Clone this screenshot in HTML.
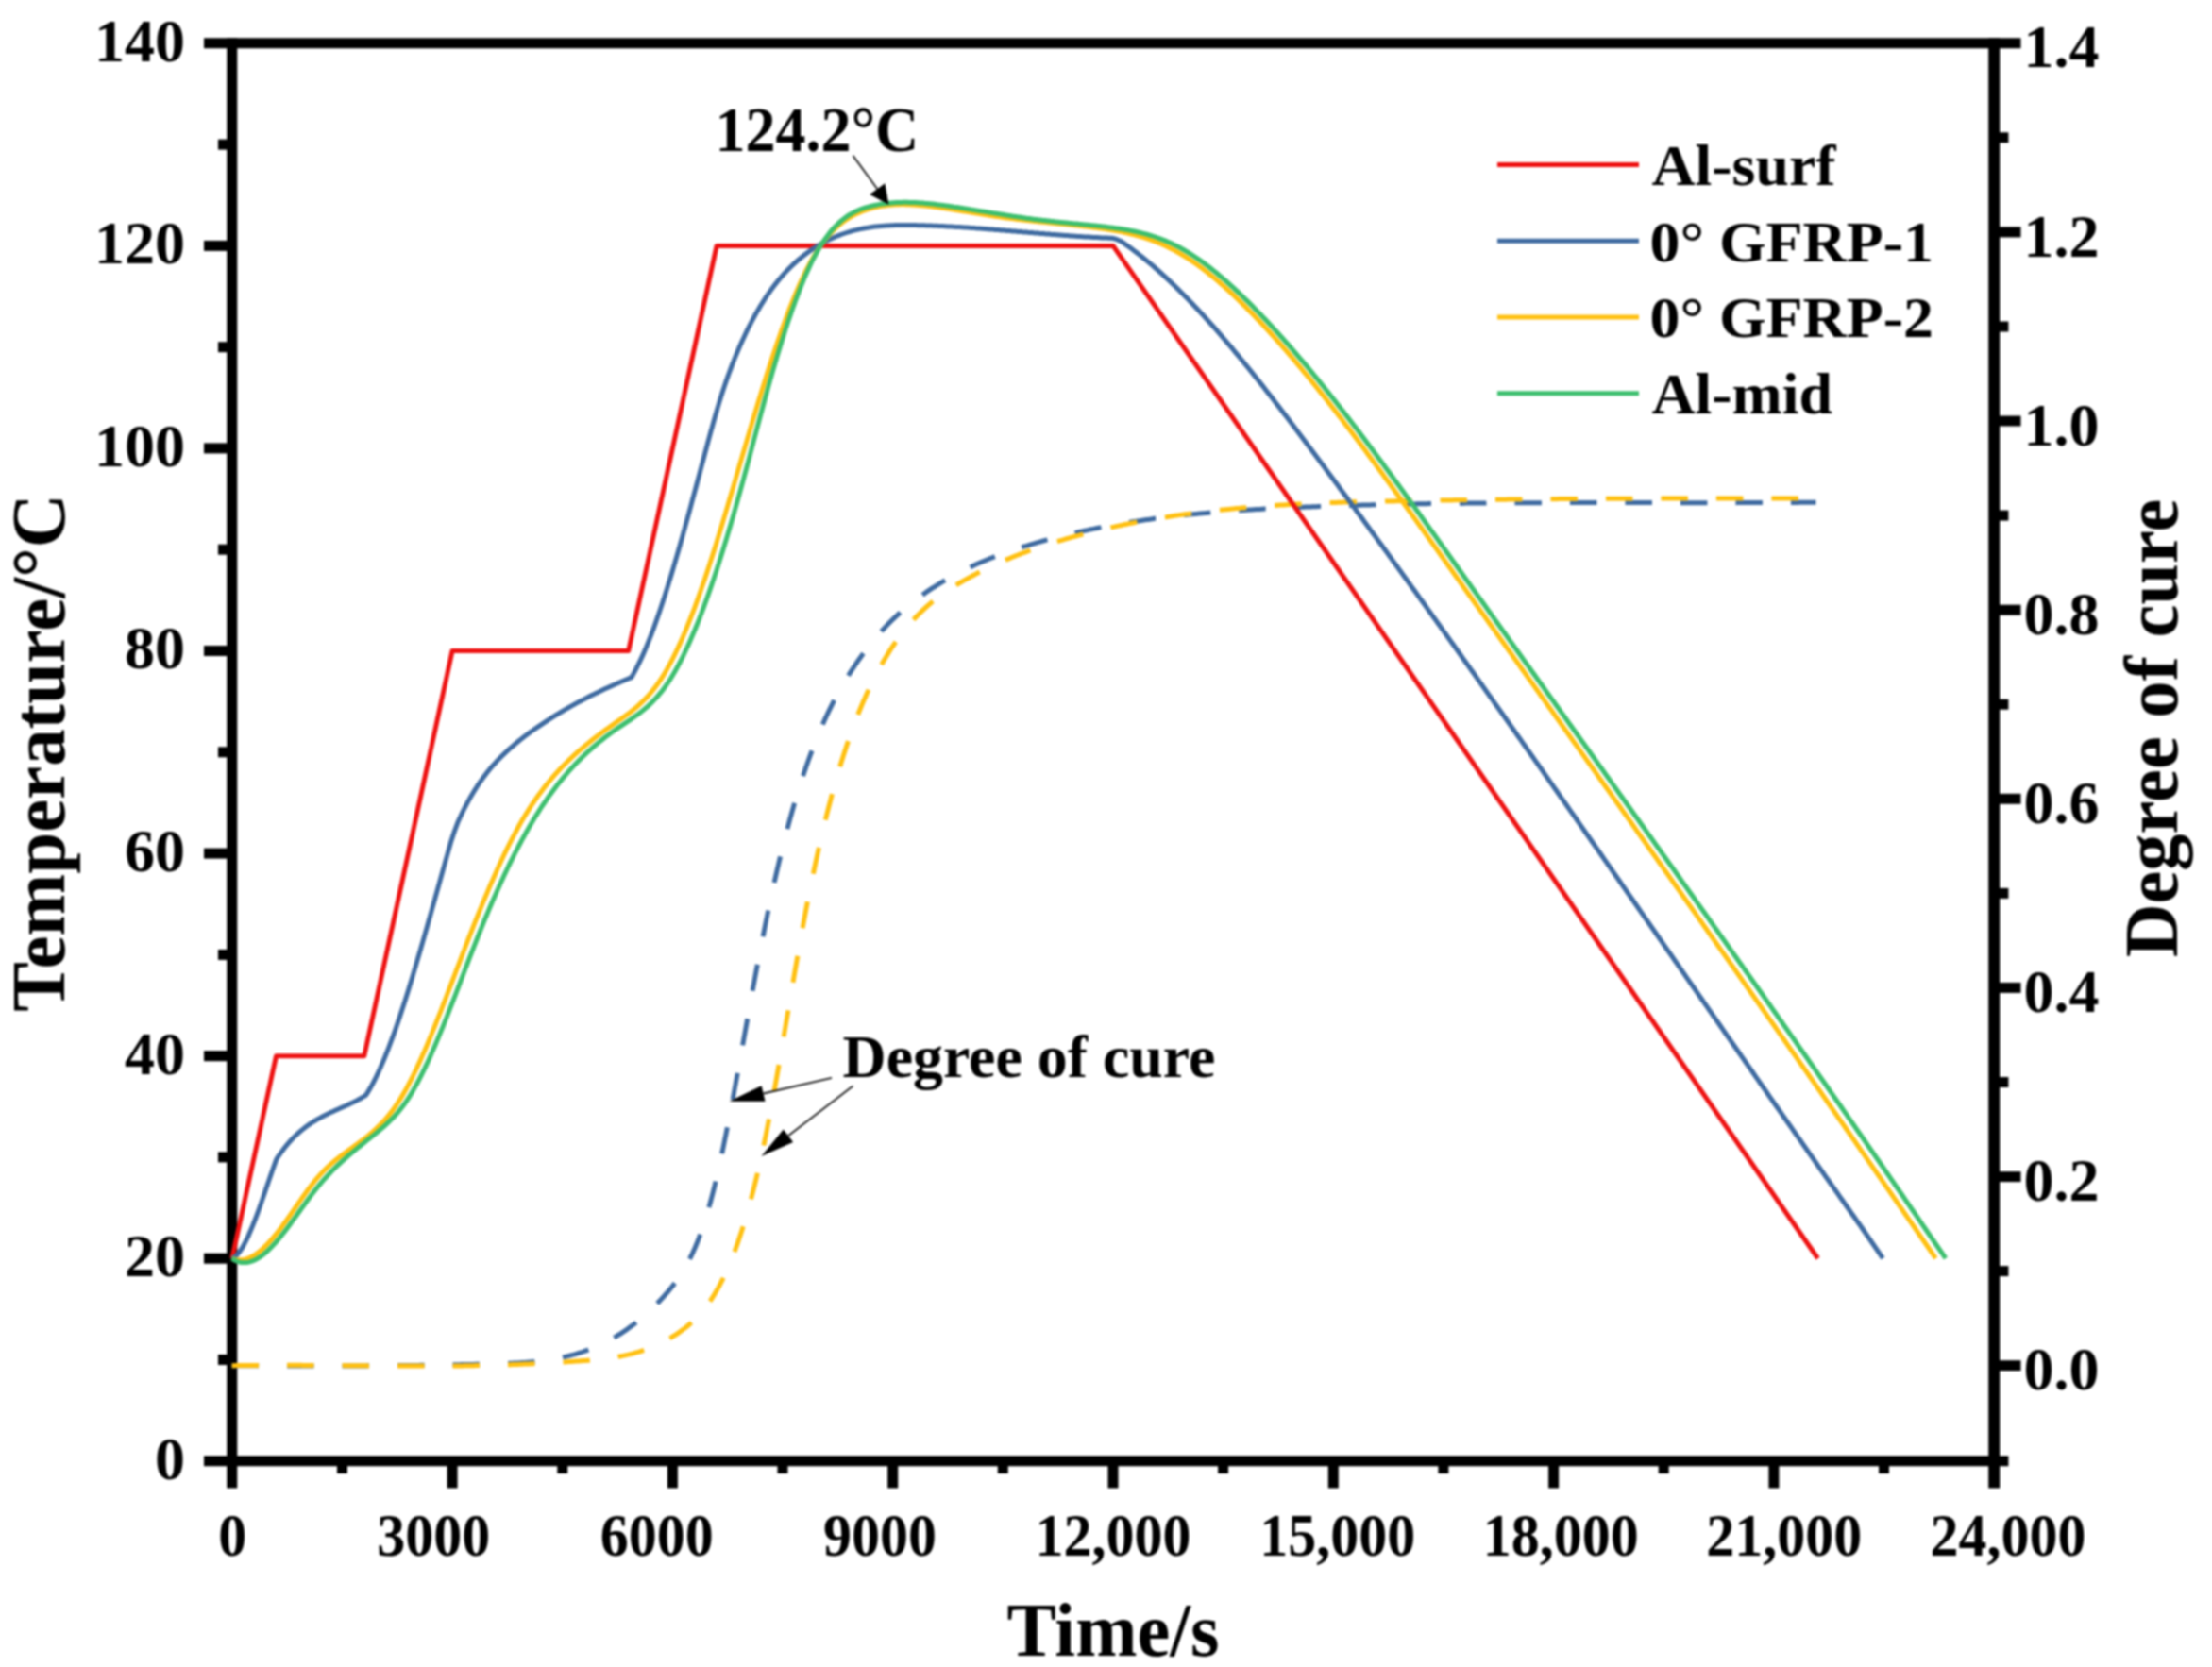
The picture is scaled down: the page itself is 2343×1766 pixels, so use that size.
<!DOCTYPE html>
<html lang="en"><head><meta charset="utf-8"><title>Cure cycle temperature and degree of cure</title>
<style>html,body{margin:0;padding:0;background:#fff}body{width:2343px;height:1766px;overflow:hidden}svg{display:block;filter:blur(0.9px)}</style>
</head><body>
<svg width="2343" height="1766" viewBox="0 0 2343 1766">
<rect width="2343" height="1766" fill="#fff"/>
<g stroke="#000" stroke-width="11" fill="none" stroke-linecap="butt">
<path d="M216,45.8 H2140.5"/>
<path d="M216,1547.8 H2127.4"/>
<path d="M245.8,40.3 V1576.5"/>
<path d="M2112.2,40.3 V1576.5" stroke-width="12"/>
<path d="M231,1440.5 H245.8"/>
<path d="M216,1333.2 H245.8"/>
<path d="M231,1225.9 H245.8"/>
<path d="M216,1118.7 H245.8"/>
<path d="M231,1011.4 H245.8"/>
<path d="M216,904.1 H245.8"/>
<path d="M231,796.8 H245.8"/>
<path d="M216,689.5 H245.8"/>
<path d="M231,582.2 H245.8"/>
<path d="M216,474.9 H245.8"/>
<path d="M231,367.7 H245.8"/>
<path d="M216,260.4 H245.8"/>
<path d="M231,153.1 H245.8"/>
<path d="M2112.2,1446.7 H2140.5"/>
<path d="M2112.2,1346.6 H2127.4"/>
<path d="M2112.2,1246.6 H2140.5"/>
<path d="M2112.2,1146.5 H2127.4"/>
<path d="M2112.2,1046.4 H2140.5"/>
<path d="M2112.2,946.4 H2127.4"/>
<path d="M2112.2,846.3 H2140.5"/>
<path d="M2112.2,746.2 H2127.4"/>
<path d="M2112.2,646.2 H2140.5"/>
<path d="M2112.2,546.1 H2127.4"/>
<path d="M2112.2,446.0 H2140.5"/>
<path d="M2112.2,346.0 H2127.4"/>
<path d="M2112.2,245.9 H2140.5"/>
<path d="M2112.2,145.8 H2127.4"/>
<path d="M362.5,1547.8 V1561"/>
<path d="M479.1,1547.8 V1576.5"/>
<path d="M595.8,1547.8 V1561"/>
<path d="M712.4,1547.8 V1576.5"/>
<path d="M829.0,1547.8 V1561"/>
<path d="M945.7,1547.8 V1576.5"/>
<path d="M1062.3,1547.8 V1561"/>
<path d="M1179.0,1547.8 V1576.5"/>
<path d="M1295.6,1547.8 V1561"/>
<path d="M1412.3,1547.8 V1576.5"/>
<path d="M1528.9,1547.8 V1561"/>
<path d="M1645.6,1547.8 V1576.5"/>
<path d="M1762.2,1547.8 V1561"/>
<path d="M1878.9,1547.8 V1576.5"/>
<path d="M1995.5,1547.8 V1561"/>
</g>
<g fill="none" stroke-width="5.0" stroke-linejoin="round" stroke-linecap="butt">
<path d="M245.6,1446.7 L247.1,1446.7 L248.6,1446.7 L250.1,1446.7 L251.6,1446.7 L253.1,1446.7 L254.6,1446.8 L256.1,1446.8 L257.6,1446.8 L259.1,1446.8 L260.6,1446.8 L262.1,1446.8 L263.6,1446.8 L265.1,1446.8 L266.6,1446.8 L268.1,1446.8 L269.6,1446.8 L271.1,1446.8 L272.6,1446.8 L274.1,1446.9 L275.6,1446.9 L277.1,1446.9 L278.6,1446.9 L280.1,1446.9 L281.6,1446.9 L283.1,1446.9 L284.6,1446.9 L286.1,1446.9 L287.6,1446.9 L289.1,1446.9 L290.6,1446.9 L292.1,1446.9 L293.6,1446.9 L295.1,1446.9 L296.6,1446.9 L298.1,1446.9 L299.6,1447.0 L301.1,1447.0 L302.6,1447.0 L304.1,1447.0 L305.6,1447.0 L307.1,1447.0 L308.6,1447.0 L310.1,1447.0 L311.6,1447.0 L313.1,1447.0 L314.6,1447.0 L316.1,1447.0 L317.6,1447.0 L319.1,1447.0 L320.6,1447.0 L322.1,1447.0 L323.6,1447.0 L325.1,1447.0 L326.6,1447.0 L328.1,1447.0 L329.6,1447.0 L331.1,1447.0 L332.6,1447.0 L334.1,1447.0 L335.6,1447.0 L337.1,1447.0 L338.6,1447.0 L340.1,1447.0 L341.6,1447.0 L343.1,1447.0 L344.6,1447.0 L346.1,1447.0 L347.6,1447.0 L349.1,1447.0 L350.6,1447.0 L352.1,1447.0 L353.6,1447.0 L355.1,1447.0 L356.6,1447.0 L358.1,1447.0 L359.6,1447.0 L361.1,1447.0 L362.6,1447.0 L364.1,1447.0 L365.6,1447.0 L367.1,1446.9 L368.6,1446.9 L370.1,1446.9 L371.6,1446.9 L373.1,1446.9 L374.6,1446.9 L376.1,1446.9 L377.6,1446.9 L379.1,1446.9 L380.6,1446.9 L382.1,1446.9 L383.6,1446.9 L385.1,1446.9 L386.6,1446.9 L388.1,1446.9 L389.6,1446.8 L391.1,1446.8 L392.6,1446.8 L394.1,1446.8 L395.6,1446.8 L397.1,1446.8 L398.6,1446.8 L400.1,1446.8 L401.6,1446.8 L403.1,1446.8 L404.6,1446.7 L406.1,1446.7 L407.6,1446.7 L409.1,1446.7 L410.6,1446.7 L412.1,1446.7 L413.6,1446.7 L415.1,1446.7 L416.6,1446.6 L418.1,1446.6 L419.6,1446.6 L421.1,1446.6 L422.6,1446.6 L424.1,1446.6 L425.6,1446.6 L427.1,1446.5 L428.6,1446.5 L430.1,1446.5 L431.6,1446.5 L433.1,1446.5 L434.6,1446.5 L436.1,1446.4 L437.6,1446.4 L439.1,1446.4 L440.6,1446.4 L442.1,1446.4 L443.6,1446.4 L445.1,1446.3 L446.6,1446.3 L448.1,1446.3 L449.6,1446.3 L451.1,1446.3 L452.6,1446.2 L454.1,1446.2 L455.6,1446.2 L457.1,1446.2 L458.6,1446.1 L460.1,1446.1 L461.6,1446.1 L463.1,1446.1 L464.6,1446.1 L466.1,1446.0 L467.6,1446.0 L469.1,1446.0 L470.6,1446.0 L472.1,1445.9 L473.6,1445.9 L475.1,1445.9 L476.6,1445.9 L478.1,1445.8 L479.6,1445.8 L481.1,1445.8 L482.6,1445.7 L484.1,1445.7 L485.6,1445.7 L487.1,1445.7 L488.6,1445.6 L490.1,1445.6 L491.6,1445.6 L493.1,1445.5 L494.6,1445.5 L496.1,1445.5 L497.6,1445.4 L499.1,1445.4 L500.6,1445.4 L502.1,1445.4 L503.6,1445.3 L505.1,1445.3 L506.6,1445.3 L508.1,1445.2 L509.6,1445.2 L511.1,1445.1 L512.6,1445.1 L514.1,1445.1 L515.6,1445.0 L517.1,1445.0 L518.6,1445.0 L520.1,1444.9 L521.6,1444.9 L523.1,1444.9 L524.6,1444.8 L526.1,1444.8 L527.6,1444.7 L529.1,1444.7 L530.6,1444.6 L532.1,1444.6 L533.6,1444.6 L535.1,1444.5 L536.6,1444.4 L538.1,1444.4 L539.6,1444.3 L541.1,1444.3 L542.6,1444.2 L544.1,1444.1 L545.6,1444.1 L547.1,1444.0 L548.6,1443.9 L550.1,1443.8 L551.6,1443.7 L553.1,1443.6 L554.6,1443.5 L556.1,1443.4 L557.6,1443.3 L559.1,1443.2 L560.6,1443.1 L562.1,1443.0 L563.6,1442.8 L565.1,1442.7 L566.6,1442.5 L568.1,1442.4 L569.6,1442.2 L571.1,1442.0 L572.6,1441.9 L574.1,1441.7 L575.6,1441.5 L577.1,1441.3 L578.6,1441.1 L580.1,1440.9 L581.6,1440.6 L583.1,1440.4 L584.6,1440.1 L586.1,1439.9 L587.6,1439.6 L589.1,1439.4 L590.6,1439.1 L592.1,1438.8 L593.6,1438.5 L595.1,1438.1 L596.6,1437.8 L598.1,1437.5 L599.6,1437.1 L601.1,1436.8 L602.6,1436.4 L604.1,1436.0 L605.6,1435.6 L607.1,1435.2 L608.6,1434.8 L610.1,1434.3 L611.6,1433.9 L613.1,1433.4 L614.6,1433.0 L616.1,1432.5 L617.6,1432.0 L619.1,1431.4 L620.6,1430.9 L622.1,1430.4 L623.6,1429.8 L625.1,1429.2 L626.6,1428.6 L628.1,1428.0 L629.6,1427.4 L631.1,1426.8 L632.6,1426.1 L634.1,1425.4 L635.6,1424.8 L637.1,1424.1 L638.6,1423.3 L640.1,1422.6 L641.6,1421.8 L643.1,1421.1 L644.6,1420.3 L646.1,1419.5 L647.6,1418.6 L649.1,1417.8 L650.6,1416.9 L652.1,1416.1 L653.6,1415.1 L655.1,1414.2 L656.6,1413.3 L658.1,1412.3 L659.6,1411.3 L661.1,1410.4 L662.6,1409.3 L664.1,1408.3 L665.6,1407.2 L667.1,1406.1 L668.6,1405.0 L670.1,1403.9 L671.6,1402.8 L673.1,1401.6 L674.6,1400.4 L676.1,1399.2 L677.6,1398.0 L679.1,1396.7 L680.6,1395.4 L682.1,1394.1 L683.6,1392.8 L685.1,1391.5 L686.6,1390.1 L688.1,1388.7 L689.6,1387.3 L691.1,1385.8 L692.6,1384.3 L694.1,1382.9 L695.6,1381.3 L697.1,1379.8 L698.6,1378.2 L700.1,1376.6 L701.6,1375.0 L703.1,1373.4 L704.6,1371.7 L706.1,1370.0 L707.6,1368.3 L709.1,1366.5 L710.6,1364.7 L712.1,1362.8 L713.6,1360.9 L715.1,1359.0 L716.6,1356.9 L718.1,1354.8 L719.6,1352.6 L721.1,1350.4 L722.6,1348.0 L724.1,1345.6 L725.6,1343.0 L727.1,1340.4 L728.6,1337.6 L730.1,1334.7 L731.6,1331.7 L733.1,1328.6 L734.6,1325.3 L736.1,1321.9 L737.6,1318.3 L739.1,1314.6 L740.6,1310.7 L742.1,1306.6 L743.6,1302.4 L745.1,1298.0 L746.6,1293.4 L748.1,1288.6 L749.6,1283.6 L751.1,1278.4 L752.6,1273.0 L754.1,1267.4 L755.6,1261.6 L757.1,1255.6 L758.6,1249.3 L760.1,1242.9 L761.6,1236.3 L763.1,1229.5 L764.6,1222.5 L766.1,1215.4 L767.6,1208.1 L769.1,1200.7 L770.6,1193.2 L772.1,1185.5 L773.6,1177.8 L775.1,1169.9 L776.6,1162.0 L778.1,1153.9 L779.6,1145.8 L781.1,1137.7 L782.6,1129.5 L784.1,1121.2 L785.6,1113.0 L787.1,1104.7 L788.6,1096.4 L790.1,1088.1 L791.6,1079.8 L793.1,1071.5 L794.6,1063.3 L796.1,1055.1 L797.6,1047.0 L799.1,1038.9 L800.6,1030.9 L802.1,1023.0 L803.6,1015.2 L805.1,1007.4 L806.6,999.7 L808.1,992.2 L809.6,984.7 L811.1,977.3 L812.6,970.0 L814.1,962.8 L815.6,955.7 L817.1,948.7 L818.6,941.8 L820.1,935.0 L821.6,928.4 L823.1,921.9 L824.6,915.5 L826.1,909.2 L827.6,903.0 L829.1,896.9 L830.6,891.0 L832.1,885.2 L833.6,879.5 L835.1,873.8 L836.6,868.4 L838.1,863.0 L839.6,857.7 L841.1,852.5 L842.6,847.4 L844.1,842.4 L845.6,837.6 L847.1,832.8 L848.6,828.1 L850.1,823.5 L851.6,819.0 L853.1,814.6 L854.6,810.2 L856.1,806.0 L857.6,801.9 L859.1,797.8 L860.6,793.8 L862.1,789.9 L863.6,786.1 L865.1,782.3 L866.6,778.7 L868.1,775.1 L869.6,771.6 L871.1,768.1 L872.6,764.7 L874.1,761.4 L875.6,758.2 L877.1,755.0 L878.6,751.9 L880.1,748.8 L881.6,745.8 L883.1,742.9 L884.6,740.0 L886.1,737.2 L887.6,734.4 L889.1,731.7 L890.6,729.1 L892.1,726.4 L893.6,723.9 L895.1,721.3 L896.6,718.9 L898.1,716.4 L899.6,714.0 L901.1,711.7 L902.6,709.4 L904.1,707.1 L905.6,704.8 L907.1,702.6 L908.6,700.4 L910.1,698.3 L911.6,696.2 L913.1,694.1 L914.6,692.1 L916.1,690.0 L917.6,688.1 L919.1,686.1 L920.6,684.2 L922.1,682.3 L923.6,680.4 L925.1,678.6 L926.6,676.8 L928.1,675.0 L929.6,673.3 L931.1,671.6 L932.6,669.9 L934.1,668.2 L935.6,666.6 L937.1,665.0 L938.6,663.4 L940.1,661.8 L941.6,660.3 L943.1,658.8 L944.6,657.3 L946.1,655.8 L947.6,654.4 L949.1,653.0 L950.6,651.6 L952.1,650.2 L953.6,648.9 L955.1,647.5 L956.6,646.2 L958.1,644.9 L959.6,643.7 L961.1,642.4 L962.6,641.2 L964.1,640.0 L965.6,638.8 L967.1,637.6 L968.6,636.4 L970.1,635.3 L971.6,634.2 L973.1,633.1 L974.6,632.0 L976.1,630.9 L977.6,629.8 L979.1,628.8 L980.6,627.7 L982.1,626.7 L983.6,625.7 L985.1,624.7 L986.6,623.7 L988.1,622.7 L989.6,621.8 L991.1,620.8 L992.6,619.9 L994.1,619.0 L995.6,618.0 L997.1,617.1 L998.6,616.2 L1000.1,615.3 L1001.6,614.5 L1003.1,613.6 L1004.6,612.7 L1006.1,611.9 L1007.6,611.1 L1009.1,610.2 L1010.6,609.4 L1012.1,608.6 L1013.6,607.8 L1015.1,607.0 L1016.6,606.3 L1018.1,605.5 L1019.6,604.7 L1021.1,604.0 L1022.6,603.2 L1024.1,602.5 L1025.6,601.8 L1027.1,601.1 L1028.6,600.4 L1030.1,599.7 L1031.6,599.0 L1033.1,598.3 L1034.6,597.6 L1036.1,596.9 L1037.6,596.3 L1039.1,595.6 L1040.6,595.0 L1042.1,594.4 L1043.6,593.7 L1045.1,593.1 L1046.6,592.5 L1048.1,591.9 L1049.6,591.3 L1051.1,590.7 L1052.6,590.1 L1054.1,589.5 L1055.6,589.0 L1057.1,588.4 L1058.6,587.8 L1060.1,587.3 L1061.6,586.7 L1063.1,586.2 L1064.6,585.7 L1066.1,585.1 L1067.6,584.6 L1069.1,584.1 L1070.6,583.6 L1072.1,583.1 L1073.6,582.6 L1075.1,582.1 L1076.6,581.6 L1078.1,581.1 L1079.6,580.6 L1081.1,580.1 L1082.6,579.7 L1084.1,579.2 L1085.6,578.7 L1087.1,578.3 L1088.6,577.8 L1090.1,577.3 L1091.6,576.9 L1093.1,576.5 L1094.6,576.0 L1096.1,575.6 L1097.6,575.1 L1099.1,574.7 L1100.6,574.3 L1102.1,573.9 L1103.6,573.4 L1105.1,573.0 L1106.6,572.6 L1108.1,572.2 L1109.6,571.8 L1111.1,571.4 L1112.6,571.0 L1114.1,570.6 L1115.6,570.2 L1117.1,569.8 L1118.6,569.4 L1120.1,569.0 L1121.6,568.7 L1123.1,568.3 L1124.6,567.9 L1126.1,567.5 L1127.6,567.2 L1129.1,566.8 L1130.6,566.4 L1132.1,566.1 L1133.6,565.7 L1135.1,565.4 L1136.6,565.0 L1138.1,564.7 L1139.6,564.3 L1141.1,564.0 L1142.6,563.6 L1144.1,563.3 L1145.6,563.0 L1147.1,562.6 L1148.6,562.3 L1150.1,562.0 L1151.6,561.7 L1153.1,561.3 L1154.6,561.0 L1156.1,560.7 L1157.6,560.4 L1159.1,560.1 L1160.6,559.8 L1162.1,559.5 L1163.6,559.2 L1165.1,558.9 L1166.6,558.6 L1168.1,558.3 L1169.6,558.0 L1171.1,557.8 L1172.6,557.5 L1174.1,557.2 L1175.6,556.9 L1177.1,556.6 L1178.6,556.4 L1180.1,556.1 L1181.6,555.8 L1183.1,555.6 L1184.6,555.3 L1186.1,555.0 L1187.6,554.8 L1189.1,554.5 L1190.6,554.3 L1192.1,554.0 L1193.6,553.8 L1195.1,553.5 L1196.6,553.3 L1198.1,553.1 L1199.6,552.8 L1201.1,552.6 L1202.6,552.4 L1204.1,552.1 L1205.6,551.9 L1207.1,551.7 L1208.6,551.5 L1210.1,551.2 L1211.6,551.0 L1213.1,550.8 L1214.6,550.6 L1216.1,550.4 L1217.6,550.2 L1219.1,550.0 L1220.6,549.8 L1222.1,549.5 L1223.6,549.3 L1225.1,549.2 L1226.6,549.0 L1228.1,548.8 L1229.6,548.6 L1231.1,548.4 L1232.6,548.2 L1234.1,548.0 L1235.6,547.8 L1237.1,547.6 L1238.6,547.5 L1240.1,547.3 L1241.6,547.1 L1243.1,546.9 L1244.6,546.8 L1246.1,546.6 L1247.6,546.4 L1249.1,546.2 L1250.6,546.1 L1252.1,545.9 L1253.6,545.8 L1255.1,545.6 L1256.6,545.4 L1258.1,545.3 L1259.6,545.1 L1261.1,545.0 L1262.6,544.8 L1264.1,544.7 L1265.6,544.5 L1267.1,544.4 L1268.6,544.2 L1270.1,544.1 L1271.6,544.0 L1273.1,543.8 L1274.6,543.7 L1276.1,543.6 L1277.6,543.4 L1279.1,543.3 L1280.6,543.2 L1282.1,543.0 L1283.6,542.9 L1285.1,542.8 L1286.6,542.7 L1288.1,542.5 L1289.6,542.4 L1291.1,542.3 L1292.6,542.2 L1294.1,542.1 L1295.6,541.9 L1297.1,541.8 L1298.6,541.7 L1300.1,541.6 L1301.6,541.5 L1303.1,541.4 L1304.6,541.3 L1306.1,541.2 L1307.6,541.1 L1309.1,541.0 L1310.6,540.9 L1312.1,540.8 L1313.6,540.7 L1315.1,540.6 L1316.6,540.5 L1318.1,540.4 L1319.6,540.3 L1321.1,540.2 L1322.6,540.1 L1324.1,540.0 L1325.6,539.9 L1327.1,539.8 L1328.6,539.7 L1330.1,539.6 L1331.6,539.5 L1333.1,539.5 L1334.6,539.4 L1336.1,539.3 L1337.6,539.2 L1339.1,539.1 L1340.6,539.0 L1342.1,539.0 L1343.6,538.9 L1345.1,538.8 L1346.6,538.7 L1348.1,538.7 L1349.6,538.6 L1351.1,538.5 L1352.6,538.4 L1354.1,538.4 L1355.6,538.3 L1357.1,538.2 L1358.6,538.2 L1360.1,538.1 L1361.6,538.0 L1363.1,537.9 L1364.6,537.9 L1366.1,537.8 L1367.6,537.7 L1369.1,537.7 L1370.6,537.6 L1372.1,537.6 L1373.6,537.5 L1375.1,537.4 L1376.6,537.4 L1378.1,537.3 L1379.6,537.2 L1381.1,537.2 L1382.6,537.1 L1384.1,537.1 L1385.6,537.0 L1387.1,536.9 L1388.6,536.9 L1390.1,536.8 L1391.6,536.8 L1393.1,536.7 L1394.6,536.7 L1396.1,536.6 L1397.6,536.5 L1399.1,536.5 L1400.6,536.4 L1402.1,536.4 L1403.6,536.3 L1405.1,536.3 L1406.6,536.2 L1408.1,536.2 L1409.6,536.1 L1411.1,536.1 L1412.6,536.0 L1414.1,536.0 L1415.6,535.9 L1417.1,535.9 L1418.6,535.8 L1420.1,535.8 L1421.6,535.7 L1423.1,535.7 L1424.6,535.6 L1426.1,535.6 L1427.6,535.6 L1429.1,535.5 L1430.6,535.5 L1432.1,535.4 L1433.6,535.4 L1435.1,535.3 L1436.6,535.3 L1438.1,535.2 L1439.6,535.2 L1441.1,535.2 L1442.6,535.1 L1444.1,535.1 L1445.6,535.0 L1447.1,535.0 L1448.6,535.0 L1450.1,534.9 L1451.6,534.9 L1453.1,534.8 L1454.6,534.8 L1456.1,534.8 L1457.6,534.7 L1459.1,534.7 L1460.6,534.7 L1462.1,534.6 L1463.6,534.6 L1465.1,534.6 L1466.6,534.5 L1468.1,534.5 L1469.6,534.5 L1471.1,534.4 L1472.6,534.4 L1474.1,534.4 L1475.6,534.3 L1477.1,534.3 L1478.6,534.3 L1480.1,534.2 L1481.6,534.2 L1483.1,534.2 L1484.6,534.1 L1486.1,534.1 L1487.6,534.1 L1489.1,534.1 L1490.6,534.0 L1492.1,534.0 L1493.6,534.0 L1495.1,533.9 L1496.6,533.9 L1498.1,533.9 L1499.6,533.9 L1501.1,533.8 L1502.6,533.8 L1504.1,533.8 L1505.6,533.8 L1507.1,533.7 L1508.6,533.7 L1510.1,533.7 L1511.6,533.7 L1513.1,533.6 L1514.6,533.6 L1516.1,533.6 L1517.6,533.6 L1519.1,533.5 L1520.6,533.5 L1522.1,533.5 L1523.6,533.5 L1525.1,533.5 L1526.6,533.4 L1528.1,533.4 L1529.6,533.4 L1531.1,533.4 L1532.6,533.4 L1534.1,533.3 L1535.6,533.3 L1537.1,533.3 L1538.6,533.3 L1540.1,533.3 L1541.6,533.3 L1543.1,533.2 L1544.6,533.2 L1546.1,533.2 L1547.6,533.2 L1549.1,533.2 L1550.6,533.2 L1552.1,533.1 L1553.6,533.1 L1555.1,533.1 L1556.6,533.1 L1558.1,533.1 L1559.6,533.1 L1561.1,533.1 L1562.6,533.0 L1564.1,533.0 L1565.6,533.0 L1567.1,533.0 L1568.6,533.0 L1570.1,533.0 L1571.6,533.0 L1573.1,533.0 L1574.6,532.9 L1576.1,532.9 L1577.6,532.9 L1579.1,532.9 L1580.6,532.9 L1582.1,532.9 L1583.6,532.9 L1585.1,532.9 L1586.6,532.9 L1588.1,532.8 L1589.6,532.8 L1591.1,532.8 L1592.6,532.8 L1594.1,532.8 L1595.6,532.8 L1597.1,532.8 L1598.6,532.8 L1600.1,532.8 L1601.6,532.8 L1603.1,532.8 L1604.6,532.8 L1606.1,532.7 L1607.6,532.7 L1609.1,532.7 L1610.6,532.7 L1612.1,532.7 L1613.6,532.7 L1615.1,532.7 L1616.6,532.7 L1618.1,532.7 L1619.6,532.7 L1621.1,532.7 L1622.6,532.7 L1624.1,532.7 L1625.6,532.7 L1627.1,532.7 L1628.6,532.7 L1630.1,532.7 L1631.6,532.7 L1633.1,532.7 L1634.6,532.6 L1636.1,532.6 L1637.6,532.6 L1639.1,532.6 L1640.6,532.6 L1642.1,532.6 L1643.6,532.6 L1645.1,532.6 L1646.6,532.6 L1648.1,532.6 L1649.6,532.6 L1651.1,532.6 L1652.6,532.6 L1654.1,532.6 L1655.6,532.6 L1657.1,532.6 L1658.6,532.6 L1660.1,532.6 L1661.6,532.6 L1663.1,532.6 L1664.6,532.6 L1666.1,532.6 L1667.6,532.6 L1669.1,532.6 L1670.6,532.6 L1672.1,532.6 L1673.6,532.6 L1675.1,532.6 L1676.6,532.6 L1678.1,532.6 L1679.6,532.6 L1681.1,532.6 L1682.6,532.6 L1684.1,532.6 L1685.6,532.6 L1687.1,532.6 L1688.6,532.6 L1690.1,532.6 L1691.6,532.6 L1693.1,532.6 L1694.6,532.6 L1696.1,532.6 L1697.6,532.6 L1699.1,532.6 L1700.6,532.6 L1702.1,532.6 L1703.6,532.6 L1705.1,532.6 L1706.6,532.6 L1708.1,532.6 L1709.6,532.6 L1711.1,532.6 L1712.6,532.6 L1714.1,532.6 L1715.6,532.6 L1717.1,532.6 L1718.6,532.6 L1720.1,532.6 L1721.6,532.6 L1723.1,532.6 L1724.6,532.6 L1726.1,532.6 L1727.6,532.6 L1729.1,532.6 L1730.6,532.6 L1732.1,532.6 L1733.6,532.6 L1735.1,532.6 L1736.6,532.6 L1738.1,532.6 L1739.6,532.6 L1741.1,532.6 L1742.6,532.6 L1744.1,532.6 L1745.6,532.6 L1747.1,532.6 L1748.6,532.6 L1750.1,532.6 L1751.6,532.7 L1753.1,532.7 L1754.6,532.7 L1756.1,532.7 L1757.6,532.7 L1759.1,532.7 L1760.6,532.7 L1762.1,532.7 L1763.6,532.7 L1765.1,532.7 L1766.6,532.7 L1768.1,532.7 L1769.6,532.7 L1771.1,532.7 L1772.6,532.7 L1774.1,532.7 L1775.6,532.7 L1777.1,532.7 L1778.6,532.7 L1780.1,532.7 L1781.6,532.7 L1783.1,532.7 L1784.6,532.7 L1786.1,532.7 L1787.6,532.7 L1789.1,532.7 L1790.6,532.7 L1792.1,532.7 L1793.6,532.7 L1795.1,532.7 L1796.6,532.7 L1798.1,532.7 L1799.6,532.7 L1801.1,532.7 L1802.6,532.7 L1804.1,532.7 L1805.6,532.7 L1807.1,532.7 L1808.6,532.7 L1810.1,532.7 L1811.6,532.7 L1813.1,532.7 L1814.6,532.7 L1816.1,532.7 L1817.6,532.7 L1819.1,532.7 L1820.6,532.7 L1822.1,532.7 L1823.6,532.7 L1825.1,532.7 L1826.6,532.7 L1828.1,532.7 L1829.6,532.7 L1831.1,532.7 L1832.6,532.7 L1834.1,532.7 L1835.6,532.7 L1837.1,532.7 L1838.6,532.7 L1840.1,532.6 L1841.6,532.6 L1843.1,532.6 L1844.6,532.6 L1846.1,532.6 L1847.6,532.6 L1849.1,532.6 L1850.6,532.6 L1852.1,532.6 L1853.6,532.6 L1855.1,532.6 L1856.6,532.6 L1858.1,532.6 L1859.6,532.6 L1861.1,532.6 L1862.6,532.6 L1864.1,532.6 L1865.6,532.6 L1867.1,532.6 L1868.6,532.6 L1870.1,532.6 L1871.6,532.6 L1873.1,532.5 L1874.6,532.5 L1876.1,532.5 L1877.6,532.5 L1879.1,532.5 L1880.6,532.5 L1882.1,532.5 L1883.6,532.5 L1885.1,532.5 L1886.6,532.5 L1888.1,532.5 L1889.6,532.5 L1891.1,532.4 L1892.6,532.4 L1894.1,532.4 L1895.6,532.4 L1897.1,532.4 L1898.6,532.4 L1900.1,532.4 L1901.6,532.4 L1903.1,532.4 L1904.6,532.4 L1906.1,532.3 L1907.6,532.3 L1909.1,532.3 L1910.6,532.3 L1912.1,532.3 L1913.6,532.3 L1915.1,532.3 L1916.6,532.3 L1918.1,532.2 L1919.6,532.2 L1921.1,532.2 L1922.6,532.2 L1923.5,532.2" stroke="#3e6aa0" stroke-dasharray="28.5 30"/>
<path d="M245.6,1446.7 L247.1,1446.7 L248.6,1446.7 L250.1,1446.6 L251.6,1446.6 L253.1,1446.6 L254.6,1446.6 L256.1,1446.6 L257.6,1446.5 L259.1,1446.5 L260.6,1446.5 L262.1,1446.5 L263.6,1446.5 L265.1,1446.5 L266.6,1446.4 L268.1,1446.4 L269.6,1446.4 L271.1,1446.4 L272.6,1446.4 L274.1,1446.4 L275.6,1446.4 L277.1,1446.4 L278.6,1446.4 L280.1,1446.3 L281.6,1446.3 L283.1,1446.3 L284.6,1446.3 L286.1,1446.3 L287.6,1446.3 L289.1,1446.3 L290.6,1446.3 L292.1,1446.3 L293.6,1446.3 L295.1,1446.3 L296.6,1446.3 L298.1,1446.3 L299.6,1446.3 L301.1,1446.3 L302.6,1446.3 L304.1,1446.3 L305.6,1446.3 L307.1,1446.3 L308.6,1446.3 L310.1,1446.3 L311.6,1446.3 L313.1,1446.3 L314.6,1446.3 L316.1,1446.3 L317.6,1446.3 L319.1,1446.3 L320.6,1446.4 L322.1,1446.4 L323.6,1446.4 L325.1,1446.4 L326.6,1446.4 L328.1,1446.4 L329.6,1446.4 L331.1,1446.4 L332.6,1446.4 L334.1,1446.4 L335.6,1446.4 L337.1,1446.4 L338.6,1446.5 L340.1,1446.5 L341.6,1446.5 L343.1,1446.5 L344.6,1446.5 L346.1,1446.5 L347.6,1446.5 L349.1,1446.5 L350.6,1446.5 L352.1,1446.6 L353.6,1446.6 L355.1,1446.6 L356.6,1446.6 L358.1,1446.6 L359.6,1446.6 L361.1,1446.6 L362.6,1446.6 L364.1,1446.6 L365.6,1446.7 L367.1,1446.7 L368.6,1446.7 L370.1,1446.7 L371.6,1446.7 L373.1,1446.7 L374.6,1446.7 L376.1,1446.7 L377.6,1446.8 L379.1,1446.8 L380.6,1446.8 L382.1,1446.8 L383.6,1446.8 L385.1,1446.8 L386.6,1446.8 L388.1,1446.8 L389.6,1446.9 L391.1,1446.9 L392.6,1446.9 L394.1,1446.9 L395.6,1446.9 L397.1,1446.9 L398.6,1446.9 L400.1,1446.9 L401.6,1446.9 L403.1,1447.0 L404.6,1447.0 L406.1,1447.0 L407.6,1447.0 L409.1,1447.0 L410.6,1447.0 L412.1,1447.0 L413.6,1447.0 L415.1,1447.0 L416.6,1447.0 L418.1,1447.0 L419.6,1447.1 L421.1,1447.1 L422.6,1447.1 L424.1,1447.1 L425.6,1447.1 L427.1,1447.1 L428.6,1447.1 L430.1,1447.1 L431.6,1447.1 L433.1,1447.1 L434.6,1447.1 L436.1,1447.1 L437.6,1447.1 L439.1,1447.1 L440.6,1447.1 L442.1,1447.1 L443.6,1447.1 L445.1,1447.1 L446.6,1447.1 L448.1,1447.1 L449.6,1447.1 L451.1,1447.1 L452.6,1447.1 L454.1,1447.1 L455.6,1447.1 L457.1,1447.1 L458.6,1447.1 L460.1,1447.1 L461.6,1447.1 L463.1,1447.1 L464.6,1447.1 L466.1,1447.1 L467.6,1447.1 L469.1,1447.1 L470.6,1447.0 L472.1,1447.0 L473.6,1447.0 L475.1,1447.0 L476.6,1447.0 L478.1,1447.0 L479.6,1447.0 L481.1,1447.0 L482.6,1446.9 L484.1,1446.9 L485.6,1446.9 L487.1,1446.9 L488.6,1446.9 L490.1,1446.9 L491.6,1446.8 L493.1,1446.8 L494.6,1446.8 L496.1,1446.8 L497.6,1446.7 L499.1,1446.7 L500.6,1446.7 L502.1,1446.7 L503.6,1446.6 L505.1,1446.6 L506.6,1446.6 L508.1,1446.6 L509.6,1446.5 L511.1,1446.5 L512.6,1446.5 L514.1,1446.4 L515.6,1446.4 L517.1,1446.4 L518.6,1446.3 L520.1,1446.3 L521.6,1446.2 L523.1,1446.2 L524.6,1446.2 L526.1,1446.1 L527.6,1446.1 L529.1,1446.0 L530.6,1446.0 L532.1,1445.9 L533.6,1445.9 L535.1,1445.9 L536.6,1445.8 L538.1,1445.8 L539.6,1445.7 L541.1,1445.7 L542.6,1445.6 L544.1,1445.5 L545.6,1445.5 L547.1,1445.4 L548.6,1445.4 L550.1,1445.3 L551.6,1445.3 L553.1,1445.2 L554.6,1445.1 L556.1,1445.1 L557.6,1445.0 L559.1,1444.9 L560.6,1444.9 L562.1,1444.8 L563.6,1444.7 L565.1,1444.7 L566.6,1444.6 L568.1,1444.5 L569.6,1444.4 L571.1,1444.4 L572.6,1444.3 L574.1,1444.2 L575.6,1444.1 L577.1,1444.1 L578.6,1444.0 L580.1,1443.9 L581.6,1443.8 L583.1,1443.7 L584.6,1443.7 L586.1,1443.6 L587.6,1443.5 L589.1,1443.4 L590.6,1443.3 L592.1,1443.2 L593.6,1443.1 L595.1,1443.1 L596.6,1443.0 L598.1,1442.9 L599.6,1442.8 L601.1,1442.7 L602.6,1442.6 L604.1,1442.5 L605.6,1442.4 L607.1,1442.3 L608.6,1442.2 L610.1,1442.1 L611.6,1442.0 L613.1,1441.9 L614.6,1441.8 L616.1,1441.7 L617.6,1441.6 L619.1,1441.5 L620.6,1441.4 L622.1,1441.3 L623.6,1441.2 L625.1,1441.0 L626.6,1440.9 L628.1,1440.8 L629.6,1440.6 L631.1,1440.5 L632.6,1440.4 L634.1,1440.2 L635.6,1440.0 L637.1,1439.9 L638.6,1439.7 L640.1,1439.5 L641.6,1439.3 L643.1,1439.2 L644.6,1438.9 L646.1,1438.7 L647.6,1438.5 L649.1,1438.3 L650.6,1438.1 L652.1,1437.8 L653.6,1437.6 L655.1,1437.3 L656.6,1437.0 L658.1,1436.7 L659.6,1436.4 L661.1,1436.1 L662.6,1435.8 L664.1,1435.4 L665.6,1435.1 L667.1,1434.7 L668.6,1434.4 L670.1,1434.0 L671.6,1433.6 L673.1,1433.1 L674.6,1432.7 L676.1,1432.3 L677.6,1431.8 L679.1,1431.3 L680.6,1430.8 L682.1,1430.3 L683.6,1429.8 L685.1,1429.2 L686.6,1428.7 L688.1,1428.1 L689.6,1427.5 L691.1,1426.9 L692.6,1426.2 L694.1,1425.6 L695.6,1424.9 L697.1,1424.2 L698.6,1423.5 L700.1,1422.8 L701.6,1422.0 L703.1,1421.3 L704.6,1420.5 L706.1,1419.6 L707.6,1418.8 L709.1,1417.9 L710.6,1417.1 L712.1,1416.2 L713.6,1415.2 L715.1,1414.3 L716.6,1413.3 L718.1,1412.3 L719.6,1411.3 L721.1,1410.2 L722.6,1409.1 L724.1,1408.0 L725.6,1406.9 L727.1,1405.7 L728.6,1404.5 L730.1,1403.2 L731.6,1401.9 L733.1,1400.6 L734.6,1399.2 L736.1,1397.7 L737.6,1396.2 L739.1,1394.7 L740.6,1393.0 L742.1,1391.4 L743.6,1389.6 L745.1,1387.8 L746.6,1385.9 L748.1,1384.0 L749.6,1381.9 L751.1,1379.8 L752.6,1377.6 L754.1,1375.4 L755.6,1373.0 L757.1,1370.6 L758.6,1368.0 L760.1,1365.4 L761.6,1362.7 L763.1,1359.9 L764.6,1357.0 L766.1,1354.0 L767.6,1350.8 L769.1,1347.6 L770.6,1344.3 L772.1,1340.8 L773.6,1337.2 L775.1,1333.5 L776.6,1329.7 L778.1,1325.8 L779.6,1321.7 L781.1,1317.6 L782.6,1313.2 L784.1,1308.8 L785.6,1304.2 L787.1,1299.5 L788.6,1294.6 L790.1,1289.6 L791.6,1284.4 L793.1,1279.1 L794.6,1273.7 L796.1,1268.1 L797.6,1262.3 L799.1,1256.4 L800.6,1250.3 L802.1,1244.0 L803.6,1237.6 L805.1,1231.0 L806.6,1224.3 L808.1,1217.3 L809.6,1210.2 L811.1,1202.9 L812.6,1195.5 L814.1,1187.8 L815.6,1180.0 L817.1,1172.1 L818.6,1164.0 L820.1,1155.8 L821.6,1147.4 L823.1,1139.0 L824.6,1130.5 L826.1,1121.9 L827.6,1113.2 L829.1,1104.5 L830.6,1095.7 L832.1,1086.9 L833.6,1078.1 L835.1,1069.3 L836.6,1060.5 L838.1,1051.7 L839.6,1042.9 L841.1,1034.2 L842.6,1025.5 L844.1,1016.9 L845.6,1008.4 L847.1,1000.0 L848.6,991.6 L850.1,983.4 L851.6,975.3 L853.1,967.3 L854.6,959.4 L856.1,951.7 L857.6,944.2 L859.1,936.7 L860.6,929.5 L862.1,922.3 L863.6,915.3 L865.1,908.4 L866.6,901.6 L868.1,894.9 L869.6,888.4 L871.1,882.0 L872.6,875.7 L874.1,869.6 L875.6,863.5 L877.1,857.6 L878.6,851.8 L880.1,846.1 L881.6,840.5 L883.1,835.1 L884.6,829.7 L886.1,824.4 L887.6,819.3 L889.1,814.2 L890.6,809.3 L892.1,804.5 L893.6,799.7 L895.1,795.1 L896.6,790.5 L898.1,786.1 L899.6,781.7 L901.1,777.4 L902.6,773.2 L904.1,769.2 L905.6,765.1 L907.1,761.2 L908.6,757.4 L910.1,753.6 L911.6,750.0 L913.1,746.4 L914.6,742.8 L916.1,739.4 L917.6,736.0 L919.1,732.7 L920.6,729.5 L922.1,726.3 L923.6,723.3 L925.1,720.2 L926.6,717.3 L928.1,714.4 L929.6,711.5 L931.1,708.8 L932.6,706.1 L934.1,703.4 L935.6,700.8 L937.1,698.2 L938.6,695.7 L940.1,693.3 L941.6,690.9 L943.1,688.5 L944.6,686.2 L946.1,684.0 L947.6,681.8 L949.1,679.6 L950.6,677.5 L952.1,675.4 L953.6,673.4 L955.1,671.4 L956.6,669.5 L958.1,667.6 L959.6,665.7 L961.1,663.9 L962.6,662.1 L964.1,660.4 L965.6,658.7 L967.1,657.0 L968.6,655.4 L970.1,653.8 L971.6,652.2 L973.1,650.7 L974.6,649.2 L976.1,647.7 L977.6,646.3 L979.1,644.9 L980.6,643.5 L982.1,642.2 L983.6,640.9 L985.1,639.6 L986.6,638.3 L988.1,637.1 L989.6,635.9 L991.1,634.7 L992.6,633.5 L994.1,632.4 L995.6,631.3 L997.1,630.2 L998.6,629.1 L1000.1,628.1 L1001.6,627.0 L1003.1,626.0 L1004.6,625.0 L1006.1,624.0 L1007.6,623.1 L1009.1,622.1 L1010.6,621.2 L1012.1,620.2 L1013.6,619.3 L1015.1,618.4 L1016.6,617.5 L1018.1,616.7 L1019.6,615.8 L1021.1,614.9 L1022.6,614.1 L1024.1,613.3 L1025.6,612.4 L1027.1,611.6 L1028.6,610.8 L1030.1,610.0 L1031.6,609.2 L1033.1,608.4 L1034.6,607.6 L1036.1,606.8 L1037.6,606.1 L1039.1,605.3 L1040.6,604.5 L1042.1,603.8 L1043.6,603.1 L1045.1,602.3 L1046.6,601.6 L1048.1,600.9 L1049.6,600.2 L1051.1,599.5 L1052.6,598.8 L1054.1,598.1 L1055.6,597.4 L1057.1,596.7 L1058.6,596.1 L1060.1,595.4 L1061.6,594.7 L1063.1,594.1 L1064.6,593.5 L1066.1,592.8 L1067.6,592.2 L1069.1,591.6 L1070.6,591.0 L1072.1,590.3 L1073.6,589.7 L1075.1,589.1 L1076.6,588.5 L1078.1,588.0 L1079.6,587.4 L1081.1,586.8 L1082.6,586.2 L1084.1,585.7 L1085.6,585.1 L1087.1,584.6 L1088.6,584.0 L1090.1,583.5 L1091.6,582.9 L1093.1,582.4 L1094.6,581.9 L1096.1,581.3 L1097.6,580.8 L1099.1,580.3 L1100.6,579.8 L1102.1,579.3 L1103.6,578.8 L1105.1,578.3 L1106.6,577.8 L1108.1,577.3 L1109.6,576.9 L1111.1,576.4 L1112.6,575.9 L1114.1,575.4 L1115.6,575.0 L1117.1,574.5 L1118.6,574.0 L1120.1,573.6 L1121.6,573.1 L1123.1,572.7 L1124.6,572.3 L1126.1,571.8 L1127.6,571.4 L1129.1,570.9 L1130.6,570.5 L1132.1,570.1 L1133.6,569.7 L1135.1,569.2 L1136.6,568.8 L1138.1,568.4 L1139.6,568.0 L1141.1,567.6 L1142.6,567.2 L1144.1,566.8 L1145.6,566.4 L1147.1,566.0 L1148.6,565.6 L1150.1,565.2 L1151.6,564.8 L1153.1,564.5 L1154.6,564.1 L1156.1,563.7 L1157.6,563.3 L1159.1,563.0 L1160.6,562.6 L1162.1,562.2 L1163.6,561.9 L1165.1,561.5 L1166.6,561.1 L1168.1,560.8 L1169.6,560.4 L1171.1,560.1 L1172.6,559.7 L1174.1,559.4 L1175.6,559.1 L1177.1,558.7 L1178.6,558.4 L1180.1,558.1 L1181.6,557.7 L1183.1,557.4 L1184.6,557.1 L1186.1,556.8 L1187.6,556.5 L1189.1,556.1 L1190.6,555.8 L1192.1,555.5 L1193.6,555.2 L1195.1,554.9 L1196.6,554.6 L1198.1,554.3 L1199.6,554.0 L1201.1,553.7 L1202.6,553.4 L1204.1,553.1 L1205.6,552.9 L1207.1,552.6 L1208.6,552.3 L1210.1,552.0 L1211.6,551.7 L1213.1,551.5 L1214.6,551.2 L1216.1,550.9 L1217.6,550.7 L1219.1,550.4 L1220.6,550.1 L1222.1,549.9 L1223.6,549.6 L1225.1,549.4 L1226.6,549.1 L1228.1,548.9 L1229.6,548.6 L1231.1,548.4 L1232.6,548.1 L1234.1,547.9 L1235.6,547.7 L1237.1,547.4 L1238.6,547.2 L1240.1,547.0 L1241.6,546.7 L1243.1,546.5 L1244.6,546.3 L1246.1,546.1 L1247.6,545.9 L1249.1,545.6 L1250.6,545.4 L1252.1,545.2 L1253.6,545.0 L1255.1,544.8 L1256.6,544.6 L1258.1,544.4 L1259.6,544.2 L1261.1,544.0 L1262.6,543.8 L1264.1,543.6 L1265.6,543.4 L1267.1,543.2 L1268.6,543.0 L1270.1,542.8 L1271.6,542.6 L1273.1,542.5 L1274.6,542.3 L1276.1,542.1 L1277.6,541.9 L1279.1,541.8 L1280.6,541.6 L1282.1,541.4 L1283.6,541.2 L1285.1,541.1 L1286.6,540.9 L1288.1,540.7 L1289.6,540.6 L1291.1,540.4 L1292.6,540.3 L1294.1,540.1 L1295.6,540.0 L1297.1,539.8 L1298.6,539.7 L1300.1,539.5 L1301.6,539.4 L1303.1,539.2 L1304.6,539.1 L1306.1,538.9 L1307.6,538.8 L1309.1,538.6 L1310.6,538.5 L1312.1,538.4 L1313.6,538.2 L1315.1,538.1 L1316.6,538.0 L1318.1,537.8 L1319.6,537.7 L1321.1,537.6 L1322.6,537.5 L1324.1,537.3 L1325.6,537.2 L1327.1,537.1 L1328.6,537.0 L1330.1,536.9 L1331.6,536.8 L1333.1,536.6 L1334.6,536.5 L1336.1,536.4 L1337.6,536.3 L1339.1,536.2 L1340.6,536.1 L1342.1,536.0 L1343.6,535.9 L1345.1,535.8 L1346.6,535.7 L1348.1,535.6 L1349.6,535.5 L1351.1,535.4 L1352.6,535.3 L1354.1,535.2 L1355.6,535.1 L1357.1,535.0 L1358.6,534.9 L1360.1,534.9 L1361.6,534.8 L1363.1,534.7 L1364.6,534.6 L1366.1,534.5 L1367.6,534.4 L1369.1,534.3 L1370.6,534.3 L1372.1,534.2 L1373.6,534.1 L1375.1,534.0 L1376.6,534.0 L1378.1,533.9 L1379.6,533.8 L1381.1,533.7 L1382.6,533.7 L1384.1,533.6 L1385.6,533.5 L1387.1,533.5 L1388.6,533.4 L1390.1,533.3 L1391.6,533.3 L1393.1,533.2 L1394.6,533.1 L1396.1,533.1 L1397.6,533.0 L1399.1,533.0 L1400.6,532.9 L1402.1,532.8 L1403.6,532.8 L1405.1,532.7 L1406.6,532.7 L1408.1,532.6 L1409.6,532.6 L1411.1,532.5 L1412.6,532.5 L1414.1,532.4 L1415.6,532.4 L1417.1,532.3 L1418.6,532.3 L1420.1,532.2 L1421.6,532.2 L1423.1,532.1 L1424.6,532.1 L1426.1,532.0 L1427.6,532.0 L1429.1,531.9 L1430.6,531.9 L1432.1,531.9 L1433.6,531.8 L1435.1,531.8 L1436.6,531.7 L1438.1,531.7 L1439.6,531.7 L1441.1,531.6 L1442.6,531.6 L1444.1,531.5 L1445.6,531.5 L1447.1,531.5 L1448.6,531.4 L1450.1,531.4 L1451.6,531.4 L1453.1,531.3 L1454.6,531.3 L1456.1,531.3 L1457.6,531.2 L1459.1,531.2 L1460.6,531.2 L1462.1,531.1 L1463.6,531.1 L1465.1,531.1 L1466.6,531.1 L1468.1,531.0 L1469.6,531.0 L1471.1,531.0 L1472.6,530.9 L1474.1,530.9 L1475.6,530.9 L1477.1,530.9 L1478.6,530.8 L1480.1,530.8 L1481.6,530.8 L1483.1,530.7 L1484.6,530.7 L1486.1,530.7 L1487.6,530.7 L1489.1,530.6 L1490.6,530.6 L1492.1,530.6 L1493.6,530.6 L1495.1,530.5 L1496.6,530.5 L1498.1,530.5 L1499.6,530.5 L1501.1,530.4 L1502.6,530.4 L1504.1,530.4 L1505.6,530.4 L1507.1,530.3 L1508.6,530.3 L1510.1,530.3 L1511.6,530.3 L1513.1,530.2 L1514.6,530.2 L1516.1,530.2 L1517.6,530.2 L1519.1,530.2 L1520.6,530.1 L1522.1,530.1 L1523.6,530.1 L1525.1,530.1 L1526.6,530.0 L1528.1,530.0 L1529.6,530.0 L1531.1,530.0 L1532.6,530.0 L1534.1,529.9 L1535.6,529.9 L1537.1,529.9 L1538.6,529.9 L1540.1,529.8 L1541.6,529.8 L1543.1,529.8 L1544.6,529.8 L1546.1,529.8 L1547.6,529.7 L1549.1,529.7 L1550.6,529.7 L1552.1,529.7 L1553.6,529.7 L1555.1,529.6 L1556.6,529.6 L1558.1,529.6 L1559.6,529.6 L1561.1,529.6 L1562.6,529.5 L1564.1,529.5 L1565.6,529.5 L1567.1,529.5 L1568.6,529.5 L1570.1,529.5 L1571.6,529.4 L1573.1,529.4 L1574.6,529.4 L1576.1,529.4 L1577.6,529.4 L1579.1,529.3 L1580.6,529.3 L1582.1,529.3 L1583.6,529.3 L1585.1,529.3 L1586.6,529.3 L1588.1,529.2 L1589.6,529.2 L1591.1,529.2 L1592.6,529.2 L1594.1,529.2 L1595.6,529.2 L1597.1,529.1 L1598.6,529.1 L1600.1,529.1 L1601.6,529.1 L1603.1,529.1 L1604.6,529.1 L1606.1,529.1 L1607.6,529.0 L1609.1,529.0 L1610.6,529.0 L1612.1,529.0 L1613.6,529.0 L1615.1,529.0 L1616.6,528.9 L1618.1,528.9 L1619.6,528.9 L1621.1,528.9 L1622.6,528.9 L1624.1,528.9 L1625.6,528.9 L1627.1,528.9 L1628.6,528.8 L1630.1,528.8 L1631.6,528.8 L1633.1,528.8 L1634.6,528.8 L1636.1,528.8 L1637.6,528.8 L1639.1,528.7 L1640.6,528.7 L1642.1,528.7 L1643.6,528.7 L1645.1,528.7 L1646.6,528.7 L1648.1,528.7 L1649.6,528.7 L1651.1,528.6 L1652.6,528.6 L1654.1,528.6 L1655.6,528.6 L1657.1,528.6 L1658.6,528.6 L1660.1,528.6 L1661.6,528.6 L1663.1,528.6 L1664.6,528.5 L1666.1,528.5 L1667.6,528.5 L1669.1,528.5 L1670.6,528.5 L1672.1,528.5 L1673.6,528.5 L1675.1,528.5 L1676.6,528.5 L1678.1,528.5 L1679.6,528.4 L1681.1,528.4 L1682.6,528.4 L1684.1,528.4 L1685.6,528.4 L1687.1,528.4 L1688.6,528.4 L1690.1,528.4 L1691.6,528.4 L1693.1,528.4 L1694.6,528.4 L1696.1,528.3 L1697.6,528.3 L1699.1,528.3 L1700.6,528.3 L1702.1,528.3 L1703.6,528.3 L1705.1,528.3 L1706.6,528.3 L1708.1,528.3 L1709.6,528.3 L1711.1,528.3 L1712.6,528.3 L1714.1,528.2 L1715.6,528.2 L1717.1,528.2 L1718.6,528.2 L1720.1,528.2 L1721.6,528.2 L1723.1,528.2 L1724.6,528.2 L1726.1,528.2 L1727.6,528.2 L1729.1,528.2 L1730.6,528.2 L1732.1,528.2 L1733.6,528.2 L1735.1,528.2 L1736.6,528.1 L1738.1,528.1 L1739.6,528.1 L1741.1,528.1 L1742.6,528.1 L1744.1,528.1 L1745.6,528.1 L1747.1,528.1 L1748.6,528.1 L1750.1,528.1 L1751.6,528.1 L1753.1,528.1 L1754.6,528.1 L1756.1,528.1 L1757.6,528.1 L1759.1,528.1 L1760.6,528.1 L1762.1,528.1 L1763.6,528.1 L1765.1,528.0 L1766.6,528.0 L1768.1,528.0 L1769.6,528.0 L1771.1,528.0 L1772.6,528.0 L1774.1,528.0 L1775.6,528.0 L1777.1,528.0 L1778.6,528.0 L1780.1,528.0 L1781.6,528.0 L1783.1,528.0 L1784.6,528.0 L1786.1,528.0 L1787.6,528.0 L1789.1,528.0 L1790.6,528.0 L1792.1,528.0 L1793.6,528.0 L1795.1,528.0 L1796.6,528.0 L1798.1,528.0 L1799.6,528.0 L1801.1,528.0 L1802.6,528.0 L1804.1,528.0 L1805.6,528.0 L1807.1,528.0 L1808.6,528.0 L1810.1,528.0 L1811.6,528.0 L1813.1,527.9 L1814.6,527.9 L1816.1,527.9 L1817.6,527.9 L1819.1,527.9 L1820.6,527.9 L1822.1,527.9 L1823.6,527.9 L1825.1,527.9 L1826.6,527.9 L1828.1,527.9 L1829.6,527.9 L1831.1,527.9 L1832.6,527.9 L1834.1,527.9 L1835.6,527.9 L1837.1,527.9 L1838.6,527.9 L1840.1,527.9 L1841.6,527.9 L1843.1,527.9 L1844.6,527.9 L1846.1,527.9 L1847.6,527.9 L1849.1,527.9 L1850.6,527.9 L1852.1,527.9 L1853.6,527.9 L1855.1,527.9 L1856.6,527.9 L1858.1,527.9 L1859.6,527.9 L1861.1,527.9 L1862.6,527.9 L1864.1,527.9 L1865.6,527.9 L1867.1,527.9 L1868.6,527.9 L1870.1,527.9 L1871.6,527.9 L1873.1,527.9 L1874.6,527.9 L1876.1,527.9 L1877.6,527.9 L1879.1,527.9 L1880.6,527.9 L1882.1,527.9 L1883.6,527.9 L1885.1,527.9 L1886.6,527.9 L1888.1,527.9 L1889.6,527.9 L1891.1,528.0 L1892.6,528.0 L1894.1,528.0 L1895.6,528.0 L1897.1,528.0 L1898.6,528.0 L1900.1,528.0 L1901.6,528.0 L1903.1,528.0 L1904.6,528.0 L1906.1,528.0 L1907.6,528.0 L1909.1,528.0 L1910.6,528.0 L1912.1,528.0 L1913.6,528.0 L1915.1,528.0 L1916.6,528.0 L1918.1,528.0 L1919.6,528.0 L1921.1,528.0 L1922.6,528.0 L1923.5,528.0" stroke="#ffc010" stroke-dasharray="28.5 30"/>
<path d="M245.8,1333.2 L292.5,1118.7 L385.8,1118.7 L479.1,689.5 L665.7,689.5 L759.1,260.4 L1179.0,260.4 L1925.6,1333.2" stroke="#ee1111"/>
<path d="M245.6,1333.2 L247.1,1332.5 L248.6,1331.5 L250.1,1330.2 L251.6,1328.7 L253.1,1326.9 L254.6,1324.8 L256.1,1322.6 L257.6,1320.1 L259.1,1317.3 L260.6,1314.4 L262.1,1311.3 L263.6,1308.1 L265.1,1304.6 L266.6,1301.1 L268.1,1297.4 L269.6,1293.5 L271.1,1289.6 L272.6,1285.6 L274.1,1281.5 L275.6,1277.3 L277.1,1273.0 L278.6,1268.7 L280.1,1264.4 L281.6,1260.0 L283.1,1255.6 L284.6,1251.3 L286.1,1246.9 L287.6,1242.6 L289.1,1238.3 L290.6,1234.1 L292.1,1229.9 L292.8,1228.0 L294.3,1225.7 L295.8,1223.6 L297.3,1221.5 L298.8,1219.4 L300.3,1217.4 L301.8,1215.5 L303.3,1213.7 L304.8,1211.9 L306.3,1210.2 L307.8,1208.5 L309.3,1206.9 L310.8,1205.3 L312.3,1203.8 L313.8,1202.4 L315.3,1201.0 L316.8,1199.6 L318.3,1198.3 L319.8,1197.1 L321.3,1195.9 L322.8,1194.7 L324.3,1193.5 L325.8,1192.4 L327.3,1191.4 L328.8,1190.4 L330.3,1189.4 L331.8,1188.4 L333.3,1187.5 L334.8,1186.6 L336.3,1185.7 L337.8,1184.9 L339.3,1184.1 L340.8,1183.3 L342.3,1182.5 L343.8,1181.7 L345.3,1181.0 L346.8,1180.2 L348.3,1179.5 L349.8,1178.8 L351.3,1178.1 L352.8,1177.5 L354.3,1176.8 L355.8,1176.1 L357.3,1175.4 L358.8,1174.8 L360.3,1174.1 L361.8,1173.4 L363.3,1172.8 L364.8,1172.1 L366.3,1171.4 L367.8,1170.7 L369.3,1170.1 L370.8,1169.3 L372.3,1168.6 L373.8,1167.9 L375.3,1167.1 L376.8,1166.4 L378.3,1165.6 L379.8,1164.8 L381.3,1164.0 L382.8,1163.1 L384.3,1162.2 L385.8,1161.3 L387.3,1160.4 L387.6,1160.2 L389.1,1157.9 L390.6,1155.4 L392.1,1152.9 L393.6,1150.2 L395.1,1147.4 L396.6,1144.5 L398.1,1141.5 L399.6,1138.4 L401.1,1135.2 L402.6,1131.9 L404.1,1128.5 L405.6,1125.0 L407.1,1121.5 L408.6,1117.8 L410.1,1114.0 L411.6,1110.2 L413.1,1106.2 L414.6,1102.2 L416.1,1098.1 L417.6,1094.0 L419.1,1089.7 L420.6,1085.4 L422.1,1081.1 L423.6,1076.6 L425.1,1072.1 L426.6,1067.5 L428.1,1062.9 L429.6,1058.2 L431.1,1053.5 L432.6,1048.7 L434.1,1043.8 L435.6,1038.9 L437.1,1034.0 L438.6,1029.0 L440.1,1024.0 L441.6,1018.9 L443.1,1013.8 L444.6,1008.7 L446.1,1003.5 L447.6,998.4 L449.1,993.1 L450.6,987.9 L452.1,982.6 L453.6,977.3 L455.1,972.0 L456.6,966.7 L458.1,961.4 L459.6,956.1 L461.1,950.7 L462.6,945.4 L464.1,940.0 L465.6,934.6 L467.1,929.3 L468.6,923.9 L470.1,918.6 L471.6,913.2 L473.1,907.9 L474.6,902.6 L476.1,897.3 L477.6,892.0 L481.1,881.4 L485.3,870.2 L486.8,867.0 L488.3,863.8 L489.8,860.7 L491.3,857.7 L492.8,854.7 L494.3,851.9 L495.8,849.1 L497.3,846.4 L498.8,843.8 L500.3,841.2 L501.8,838.7 L503.3,836.3 L504.8,834.0 L506.3,831.7 L507.8,829.5 L509.3,827.3 L510.8,825.2 L512.3,823.1 L513.8,821.2 L515.3,819.2 L516.8,817.3 L518.3,815.5 L519.8,813.7 L521.3,811.9 L522.8,810.2 L524.3,808.6 L525.8,806.9 L527.3,805.3 L528.8,803.8 L530.3,802.3 L531.8,800.8 L533.3,799.3 L534.8,797.9 L536.3,796.5 L537.8,795.1 L539.3,793.7 L540.8,792.4 L542.3,791.1 L543.8,789.8 L545.3,788.5 L546.8,787.2 L548.3,786.0 L549.8,784.8 L551.3,783.6 L552.8,782.4 L554.3,781.2 L555.8,780.1 L557.3,778.9 L558.8,777.8 L560.3,776.7 L561.8,775.6 L563.3,774.5 L564.8,773.5 L566.3,772.4 L567.8,771.4 L569.3,770.3 L570.8,769.3 L572.3,768.3 L573.8,767.3 L575.3,766.3 L576.8,765.3 L578.3,764.3 L579.8,763.3 L581.3,762.3 L582.8,761.4 L584.3,760.4 L585.8,759.5 L587.3,758.5 L588.8,757.6 L590.3,756.7 L591.8,755.8 L593.3,754.9 L594.8,754.0 L596.3,753.1 L597.8,752.2 L599.3,751.3 L600.8,750.5 L602.3,749.6 L603.8,748.8 L605.3,747.9 L606.8,747.1 L608.3,746.3 L609.8,745.4 L611.3,744.6 L612.8,743.8 L614.3,743.0 L615.8,742.2 L617.3,741.4 L618.8,740.7 L620.3,739.9 L621.8,739.1 L623.3,738.3 L624.8,737.6 L626.3,736.8 L627.8,736.1 L629.3,735.4 L630.8,734.6 L632.3,733.9 L633.8,733.2 L635.3,732.4 L636.8,731.7 L638.3,731.0 L639.8,730.3 L641.3,729.6 L642.8,728.9 L644.3,728.2 L645.8,727.6 L647.3,726.9 L648.8,726.2 L650.3,725.5 L651.8,724.9 L653.3,724.2 L654.8,723.6 L656.3,722.9 L657.8,722.3 L659.3,721.6 L660.8,721.0 L662.3,720.3 L663.8,719.7 L665.3,719.1 L666.8,718.4 L668.3,717.8 L668.8,717.6 L670.3,715.1 L671.8,712.4 L673.3,709.6 L674.8,706.7 L676.3,703.7 L677.8,700.6 L679.3,697.4 L680.8,694.1 L682.3,690.7 L683.8,687.2 L685.3,683.6 L686.8,679.9 L688.3,676.1 L689.8,672.3 L691.3,668.3 L692.8,664.3 L694.3,660.1 L695.8,655.9 L697.3,651.6 L698.8,647.2 L700.3,642.8 L701.8,638.3 L703.3,633.7 L704.8,629.0 L706.3,624.2 L707.8,619.4 L709.3,614.6 L710.8,609.7 L712.3,604.7 L713.8,599.6 L715.3,594.5 L716.8,589.4 L718.3,584.2 L719.8,579.0 L721.3,573.7 L722.8,568.4 L724.3,563.0 L725.8,557.6 L727.3,552.2 L728.8,546.8 L730.3,541.3 L731.8,535.8 L733.3,530.2 L734.8,524.7 L736.3,519.1 L737.8,513.5 L739.3,507.9 L740.8,502.3 L742.3,496.7 L743.8,491.1 L745.3,485.5 L746.8,479.9 L748.3,474.3 L749.8,468.7 L751.3,463.2 L752.8,457.7 L754.3,452.3 L755.8,446.9 L757.3,441.7 L758.8,436.5 L760.3,431.4 L761.8,426.4 L763.3,421.6 L764.8,416.8 L766.3,412.2 L767.8,407.8 L769.3,403.4 L770.8,399.1 L772.3,395.0 L773.8,391.0 L775.3,387.0 L776.8,383.2 L778.3,379.4 L779.8,375.8 L781.3,372.2 L782.8,368.7 L784.3,365.3 L785.8,361.9 L787.3,358.7 L788.8,355.5 L790.3,352.3 L791.8,349.2 L793.3,346.2 L794.8,343.3 L796.3,340.4 L797.8,337.6 L799.3,334.8 L800.8,332.1 L802.3,329.5 L803.8,326.9 L805.3,324.4 L806.8,322.0 L808.3,319.6 L809.8,317.2 L811.3,314.9 L812.8,312.7 L814.3,310.5 L815.8,308.4 L817.3,306.3 L818.8,304.3 L820.3,302.3 L821.8,300.4 L823.3,298.5 L824.8,296.6 L826.3,294.8 L827.8,293.1 L829.3,291.4 L830.8,289.7 L832.3,288.1 L833.8,286.5 L835.3,285.0 L836.8,283.5 L838.3,282.0 L839.8,280.6 L841.3,279.2 L842.8,277.8 L844.3,276.5 L845.8,275.2 L847.3,273.9 L848.8,272.7 L850.3,271.5 L851.8,270.3 L853.3,269.2 L854.8,268.0 L856.3,266.9 L857.8,265.9 L859.3,264.8 L860.8,263.8 L862.3,262.8 L863.8,261.9 L865.3,260.9 L866.8,260.0 L868.3,259.1 L869.8,258.3 L871.3,257.4 L872.8,256.6 L874.3,255.8 L875.8,255.1 L877.3,254.3 L878.8,253.6 L880.3,252.9 L881.8,252.2 L883.3,251.5 L884.8,250.9 L886.3,250.3 L887.8,249.7 L889.3,249.1 L890.8,248.5 L892.3,248.0 L893.8,247.5 L895.3,247.0 L896.8,246.5 L898.3,246.0 L899.8,245.6 L901.3,245.1 L902.8,244.7 L904.3,244.3 L905.8,243.9 L907.3,243.6 L908.8,243.2 L910.3,242.9 L911.8,242.6 L913.3,242.3 L914.8,242.0 L916.3,241.7 L917.8,241.4 L919.3,241.2 L920.8,240.9 L922.3,240.7 L923.8,240.5 L925.3,240.3 L926.8,240.1 L928.3,240.0 L929.8,239.8 L931.3,239.7 L932.8,239.5 L934.3,239.4 L935.8,239.3 L937.3,239.2 L938.8,239.1 L940.3,239.0 L941.8,238.9 L943.3,238.8 L944.8,238.7 L946.3,238.7 L947.8,238.6 L949.3,238.6 L950.8,238.6 L952.3,238.5 L953.8,238.5 L955.3,238.5 L956.8,238.5 L958.3,238.5 L959.8,238.5 L961.3,238.5 L962.8,238.5 L964.3,238.5 L965.8,238.5 L967.3,238.6 L968.8,238.6 L970.3,238.6 L971.8,238.7 L973.3,238.7 L974.8,238.7 L976.3,238.8 L977.8,238.8 L979.3,238.8 L980.8,238.9 L982.3,238.9 L983.8,239.0 L985.3,239.0 L986.8,239.1 L988.3,239.2 L989.8,239.2 L991.3,239.3 L992.8,239.3 L994.3,239.4 L995.8,239.5 L997.3,239.6 L998.8,239.6 L1000.3,239.7 L1001.8,239.8 L1003.3,239.9 L1004.8,239.9 L1006.3,240.0 L1007.8,240.1 L1009.3,240.2 L1010.8,240.3 L1012.3,240.4 L1013.8,240.4 L1015.3,240.5 L1016.8,240.6 L1018.3,240.7 L1019.8,240.8 L1021.3,240.9 L1022.8,241.0 L1024.3,241.1 L1025.8,241.2 L1027.3,241.3 L1028.8,241.4 L1030.3,241.5 L1031.8,241.6 L1033.3,241.8 L1034.8,241.9 L1036.3,242.0 L1037.8,242.1 L1039.3,242.2 L1040.8,242.3 L1042.3,242.4 L1043.8,242.5 L1045.3,242.7 L1046.8,242.8 L1048.3,242.9 L1049.8,243.0 L1051.3,243.1 L1052.8,243.2 L1054.3,243.4 L1055.8,243.5 L1057.3,243.6 L1058.8,243.7 L1060.3,243.9 L1061.8,244.0 L1063.3,244.1 L1064.8,244.2 L1066.3,244.4 L1067.8,244.5 L1069.3,244.6 L1070.8,244.7 L1072.3,244.9 L1073.8,245.0 L1075.3,245.1 L1076.8,245.2 L1078.3,245.4 L1079.8,245.5 L1081.3,245.6 L1082.8,245.8 L1084.3,245.9 L1085.8,246.0 L1087.3,246.1 L1088.8,246.3 L1090.3,246.4 L1091.8,246.5 L1093.3,246.6 L1094.8,246.8 L1096.3,246.9 L1097.8,247.0 L1099.3,247.1 L1100.8,247.3 L1102.3,247.4 L1103.8,247.5 L1105.3,247.6 L1106.8,247.8 L1108.3,247.9 L1109.8,248.0 L1111.3,248.1 L1112.8,248.3 L1114.3,248.4 L1115.8,248.5 L1117.3,248.6 L1118.8,248.7 L1120.3,248.8 L1121.8,249.0 L1123.3,249.1 L1124.8,249.2 L1126.3,249.3 L1127.8,249.4 L1129.3,249.5 L1130.8,249.6 L1132.3,249.7 L1133.8,249.9 L1135.3,250.0 L1136.8,250.1 L1138.3,250.2 L1139.8,250.3 L1141.3,250.4 L1142.8,250.5 L1144.3,250.6 L1145.8,250.7 L1147.3,250.8 L1148.8,250.9 L1150.3,250.9 L1151.8,251.0 L1153.3,251.1 L1154.8,251.2 L1156.3,251.3 L1157.8,251.4 L1159.3,251.5 L1160.8,251.6 L1162.3,251.6 L1163.8,251.7 L1165.3,251.8 L1166.8,251.9 L1168.3,251.9 L1169.8,252.0 L1171.3,252.1 L1172.8,252.1 L1174.3,252.2 L1175.8,252.3 L1177.3,252.3 L1178.8,252.4 L1183.1,253.7 L1188.2,256.1 L1189.7,257.2 L1191.2,258.2 L1192.7,259.3 L1194.2,260.3 L1195.7,261.4 L1197.2,262.5 L1198.7,263.6 L1200.2,264.8 L1201.7,265.9 L1203.2,267.0 L1204.7,268.2 L1206.2,269.4 L1207.7,270.6 L1209.2,271.8 L1210.7,273.0 L1212.2,274.2 L1213.7,275.4 L1215.2,276.7 L1216.7,277.9 L1218.2,279.2 L1219.7,280.4 L1221.2,281.7 L1222.7,283.0 L1224.2,284.3 L1225.7,285.7 L1227.2,287.0 L1228.7,288.3 L1230.2,289.7 L1231.7,291.1 L1233.2,292.4 L1234.7,293.8 L1236.2,295.2 L1237.7,296.6 L1239.2,298.0 L1240.7,299.5 L1242.2,300.9 L1243.7,302.3 L1245.2,303.8 L1246.7,305.3 L1248.2,306.7 L1249.7,308.2 L1251.2,309.7 L1252.7,311.2 L1254.2,312.7 L1255.7,314.3 L1257.2,315.8 L1258.7,317.3 L1260.2,318.9 L1261.7,320.4 L1263.2,322.0 L1264.7,323.6 L1266.2,325.2 L1267.7,326.8 L1269.2,328.4 L1270.7,330.0 L1272.2,331.6 L1273.7,333.2 L1275.2,334.9 L1276.7,336.5 L1278.2,338.2 L1279.7,339.8 L1281.2,341.5 L1282.7,343.2 L1284.2,344.8 L1285.7,346.5 L1287.2,348.2 L1288.7,349.9 L1290.2,351.7 L1291.7,353.4 L1293.2,355.1 L1294.7,356.8 L1296.2,358.6 L1297.7,360.3 L1299.2,362.1 L1300.7,363.8 L1302.2,365.6 L1303.7,367.4 L1305.2,369.2 L1306.7,371.0 L1308.2,372.8 L1309.7,374.6 L1311.2,376.4 L1312.7,378.2 L1314.2,380.0 L1315.7,381.8 L1317.2,383.6 L1318.7,385.5 L1320.2,387.3 L1321.7,389.2 L1323.2,391.0 L1324.7,392.9 L1326.2,394.7 L1327.7,396.6 L1329.2,398.5 L1330.7,400.4 L1332.2,402.2 L1333.7,404.1 L1335.2,406.0 L1336.7,407.9 L1338.2,409.8 L1339.7,411.7 L1341.2,413.7 L1342.7,415.6 L1344.2,417.5 L1345.7,419.4 L1347.2,421.3 L1348.7,423.3 L1350.2,425.2 L1351.7,427.2 L1353.2,429.1 L1354.7,431.0 L1356.2,433.0 L1357.7,435.0 L1359.2,436.9 L1360.7,438.9 L1362.2,440.8 L1363.7,442.8 L1365.2,444.8 L1366.7,446.8 L1368.2,448.7 L1369.7,450.7 L1371.2,452.7 L1372.7,454.7 L1374.2,456.7 L1375.7,458.7 L1377.2,460.7 L1378.7,462.7 L1380.2,464.7 L1381.7,466.7 L1383.2,468.7 L1384.7,470.7 L1386.2,472.7 L1387.7,474.7 L1389.2,476.7 L1390.7,478.7 L1392.2,480.7 L1393.7,482.7 L1395.2,484.7 L1396.7,486.8 L1398.2,488.8 L1399.7,490.8 L1401.2,492.8 L1402.7,494.8 L1404.2,496.9 L1405.7,498.9 L1407.2,500.9 L1408.7,502.9 L1410.2,505.0 L1411.7,507.0 L1413.2,509.0 L1414.7,511.1 L1416.2,513.1 L1417.7,515.1 L1419.2,517.2 L1420.7,519.2 L1422.2,521.2 L1423.7,523.3 L1425.2,525.3 L1426.7,527.3 L1428.2,529.4 L1429.7,531.4 L1431.2,533.5 L1432.7,535.5 L1434.2,537.6 L1435.7,539.6 L1437.2,541.7 L1438.7,543.7 L1440.2,545.7 L1441.7,547.8 L1443.2,549.8 L1444.7,551.9 L1446.2,553.9 L1447.7,556.0 L1449.2,558.1 L1450.7,560.1 L1452.2,562.2 L1453.7,564.2 L1455.2,566.3 L1456.7,568.3 L1458.2,570.4 L1459.7,572.5 L1461.2,574.5 L1462.7,576.6 L1464.2,578.6 L1465.7,580.7 L1467.2,582.8 L1468.7,584.8 L1470.2,586.9 L1471.7,589.0 L1473.2,591.0 L1474.7,593.1 L1476.2,595.2 L1477.7,597.2 L1479.2,599.3 L1480.7,601.4 L1482.2,603.5 L1483.7,605.5 L1485.2,607.6 L1486.7,609.7 L1488.2,611.8 L1489.7,613.8 L1491.2,615.9 L1492.7,618.0 L1494.2,620.1 L1495.7,622.2 L1497.2,624.2 L1498.7,626.3 L1500.2,628.4 L1501.7,630.5 L1503.2,632.6 L1504.7,634.7 L1506.2,636.7 L1507.7,638.8 L1509.2,640.9 L1510.7,643.0 L1512.2,645.1 L1513.7,647.2 L1515.2,649.3 L1516.7,651.4 L1518.2,653.5 L1519.7,655.6 L1521.2,657.6 L1522.7,659.7 L1524.2,661.8 L1525.7,663.9 L1527.2,666.0 L1528.7,668.1 L1530.2,670.2 L1531.7,672.3 L1533.2,674.4 L1534.7,676.5 L1536.2,678.6 L1537.7,680.7 L1539.2,682.8 L1540.7,684.9 L1542.2,687.0 L1543.7,689.1 L1545.2,691.2 L1546.7,693.3 L1548.2,695.5 L1549.7,697.6 L1551.2,699.7 L1552.7,701.8 L1554.2,703.9 L1555.7,706.0 L1557.2,708.1 L1558.7,710.2 L1560.2,712.3 L1561.7,714.4 L1563.2,716.5 L1564.7,718.7 L1566.2,720.8 L1567.7,722.9 L1569.2,725.0 L1570.7,727.1 L1572.2,729.2 L1573.7,731.4 L1575.2,733.5 L1576.7,735.6 L1578.2,737.7 L1579.7,739.8 L1581.2,741.9 L1582.7,744.1 L1584.2,746.2 L1585.7,748.3 L1587.2,750.4 L1588.7,752.5 L1590.2,754.7 L1591.7,756.8 L1593.2,758.9 L1594.7,761.0 L1596.2,763.2 L1597.7,765.3 L1599.2,767.4 L1600.7,769.5 L1602.2,771.7 L1603.7,773.8 L1605.2,775.9 L1606.7,778.1 L1608.2,780.2 L1609.7,782.3 L1611.2,784.4 L1612.7,786.6 L1614.2,788.7 L1615.7,790.8 L1617.2,793.0 L1618.7,795.1 L1620.2,797.2 L1621.7,799.4 L1623.2,801.5 L1624.7,803.6 L1626.2,805.8 L1627.7,807.9 L1629.2,810.0 L1630.7,812.2 L1632.2,814.3 L1633.7,816.4 L1635.2,818.6 L1636.7,820.7 L1638.2,822.9 L1639.7,825.0 L1641.2,827.1 L1642.7,829.3 L1644.2,831.4 L1645.7,833.6 L1647.2,835.7 L1648.7,837.8 L1650.2,840.0 L1651.7,842.1 L1653.2,844.3 L1654.7,846.4 L1656.2,848.5 L1657.7,850.7 L1659.2,852.8 L1660.7,855.0 L1662.2,857.1 L1663.7,859.3 L1665.2,861.4 L1666.7,863.5 L1668.2,865.7 L1669.7,867.8 L1671.2,870.0 L1672.7,872.1 L1674.2,874.3 L1675.7,876.4 L1677.2,878.6 L1678.7,880.7 L1680.2,882.9 L1681.7,885.0 L1683.2,887.2 L1684.7,889.3 L1686.2,891.5 L1687.7,893.6 L1689.2,895.7 L1690.7,897.9 L1692.2,900.0 L1693.7,902.2 L1695.2,904.3 L1696.7,906.5 L1698.2,908.6 L1699.7,910.8 L1701.2,912.9 L1702.7,915.1 L1704.2,917.2 L1705.7,919.4 L1707.2,921.6 L1708.7,923.7 L1710.2,925.9 L1711.7,928.0 L1713.2,930.2 L1714.7,932.3 L1716.2,934.5 L1717.7,936.6 L1719.2,938.8 L1720.7,940.9 L1722.2,943.1 L1723.7,945.2 L1725.2,947.4 L1726.7,949.5 L1728.2,951.7 L1729.7,953.8 L1731.2,956.0 L1732.7,958.2 L1734.2,960.3 L1735.7,962.5 L1737.2,964.6 L1738.7,966.8 L1740.2,968.9 L1741.7,971.1 L1743.2,973.2 L1744.7,975.4 L1746.2,977.5 L1747.7,979.7 L1749.2,981.9 L1750.7,984.0 L1752.2,986.2 L1753.7,988.3 L1755.2,990.5 L1756.7,992.6 L1758.2,994.8 L1759.7,996.9 L1761.2,999.1 L1762.7,1001.3 L1764.2,1003.4 L1765.7,1005.6 L1767.2,1007.7 L1768.7,1009.9 L1770.2,1012.0 L1771.7,1014.2 L1773.2,1016.4 L1774.7,1018.5 L1776.2,1020.7 L1777.7,1022.8 L1779.2,1025.0 L1780.7,1027.1 L1782.2,1029.3 L1783.7,1031.4 L1785.2,1033.6 L1786.7,1035.8 L1788.2,1037.9 L1789.7,1040.1 L1791.2,1042.2 L1792.7,1044.4 L1794.2,1046.5 L1795.7,1048.7 L1797.2,1050.9 L1798.7,1053.0 L1800.2,1055.2 L1801.7,1057.3 L1803.2,1059.5 L1804.7,1061.6 L1806.2,1063.8 L1807.7,1065.9 L1809.2,1068.1 L1810.7,1070.3 L1812.2,1072.4 L1813.7,1074.6 L1815.2,1076.7 L1816.7,1078.9 L1818.2,1081.0 L1819.7,1083.2 L1821.2,1085.3 L1822.7,1087.5 L1824.2,1089.6 L1825.7,1091.8 L1827.2,1094.0 L1828.7,1096.1 L1830.2,1098.3 L1831.7,1100.4 L1833.2,1102.6 L1834.7,1104.7 L1836.2,1106.9 L1837.7,1109.0 L1839.2,1111.2 L1840.7,1113.3 L1842.2,1115.5 L1843.7,1117.6 L1845.2,1119.8 L1846.7,1121.9 L1848.2,1124.1 L1849.7,1126.2 L1851.2,1128.4 L1852.7,1130.5 L1854.2,1132.7 L1855.7,1134.8 L1857.2,1137.0 L1858.7,1139.1 L1860.2,1141.3 L1861.7,1143.4 L1863.2,1145.6 L1864.7,1147.7 L1866.2,1149.9 L1867.7,1152.0 L1869.2,1154.2 L1870.7,1156.3 L1872.2,1158.5 L1873.7,1160.6 L1875.2,1162.8 L1876.7,1164.9 L1878.2,1167.1 L1879.7,1169.2 L1881.2,1171.4 L1882.7,1173.5 L1884.2,1175.7 L1885.7,1177.8 L1887.2,1179.9 L1888.7,1182.1 L1890.2,1184.2 L1891.7,1186.4 L1893.2,1188.5 L1894.7,1190.7 L1896.2,1192.8 L1897.7,1194.9 L1899.2,1197.1 L1900.7,1199.2 L1902.2,1201.4 L1903.7,1203.5 L1905.2,1205.7 L1906.7,1207.8 L1908.2,1209.9 L1909.7,1212.1 L1911.2,1214.2 L1912.7,1216.4 L1914.2,1218.5 L1915.7,1220.6 L1917.2,1222.8 L1918.7,1224.9 L1920.2,1227.0 L1921.7,1229.2 L1923.2,1231.3 L1924.7,1233.5 L1926.2,1235.6 L1927.7,1237.7 L1929.2,1239.9 L1930.7,1242.0 L1932.2,1244.1 L1933.7,1246.3 L1935.2,1248.4 L1936.7,1250.5 L1938.2,1252.7 L1939.7,1254.8 L1941.2,1256.9 L1942.7,1259.0 L1944.2,1261.2 L1945.7,1263.3 L1947.2,1265.4 L1948.7,1267.6 L1950.2,1269.7 L1951.7,1271.8 L1953.2,1273.9 L1954.7,1276.1 L1956.2,1278.2 L1957.7,1280.3 L1959.2,1282.5 L1960.7,1284.6 L1962.2,1286.7 L1963.7,1288.8 L1965.2,1290.9 L1966.7,1293.1 L1968.2,1295.2 L1969.7,1297.3 L1971.2,1299.4 L1971.6,1300.0 L1994.4,1333.2" stroke="#3e6aa0"/>
<path d="M245.6,1333.2 L247.1,1333.7 L248.6,1334.2 L250.1,1334.5 L251.6,1334.7 L253.1,1334.8 L254.6,1334.8 L256.1,1334.7 L257.6,1334.5 L259.1,1334.2 L260.6,1333.8 L262.1,1333.3 L263.6,1332.7 L265.1,1332.1 L266.6,1331.3 L268.1,1330.5 L269.6,1329.6 L271.1,1328.6 L272.6,1327.5 L274.1,1326.4 L275.6,1325.2 L277.1,1323.9 L278.6,1322.5 L280.1,1321.1 L281.6,1319.7 L283.1,1318.1 L284.6,1316.6 L286.1,1314.9 L287.6,1313.2 L289.1,1311.5 L290.6,1309.7 L292.1,1307.9 L293.6,1306.0 L295.1,1304.1 L296.6,1302.1 L298.1,1300.2 L299.6,1298.1 L301.1,1296.1 L302.6,1294.0 L304.1,1291.9 L305.6,1289.8 L307.1,1287.7 L308.6,1285.5 L310.1,1283.4 L311.6,1281.2 L313.1,1279.0 L314.6,1276.9 L316.1,1274.7 L317.6,1272.6 L319.1,1270.4 L320.6,1268.3 L322.1,1266.2 L323.6,1264.1 L325.1,1262.0 L326.6,1260.0 L328.1,1258.0 L329.6,1256.0 L331.1,1254.1 L332.6,1252.2 L334.1,1250.3 L335.6,1248.5 L337.1,1246.8 L338.6,1245.1 L340.1,1243.4 L341.6,1241.9 L343.1,1240.3 L344.6,1238.8 L346.1,1237.3 L347.6,1235.9 L349.1,1234.5 L350.6,1233.2 L352.1,1231.9 L353.6,1230.6 L355.1,1229.3 L356.6,1228.1 L358.1,1226.9 L359.6,1225.7 L361.1,1224.6 L362.6,1223.4 L364.1,1222.3 L365.6,1221.2 L367.1,1220.1 L368.6,1219.0 L370.1,1217.9 L371.6,1216.9 L373.1,1215.8 L374.6,1214.7 L376.1,1213.6 L377.6,1212.5 L379.1,1211.4 L380.6,1210.3 L382.1,1209.2 L383.6,1208.1 L385.1,1207.0 L386.6,1205.8 L388.1,1204.6 L389.6,1203.4 L391.1,1202.2 L392.6,1200.9 L394.1,1199.6 L395.6,1198.3 L397.1,1197.0 L398.6,1195.6 L400.1,1194.1 L401.6,1192.7 L403.1,1191.1 L404.6,1189.6 L406.1,1188.0 L407.6,1186.3 L409.1,1184.6 L410.6,1182.8 L412.1,1181.0 L413.6,1179.1 L415.1,1177.2 L416.6,1175.2 L418.1,1173.1 L419.6,1170.9 L421.1,1168.7 L422.6,1166.4 L424.1,1164.1 L425.6,1161.6 L427.1,1159.1 L428.6,1156.5 L430.1,1153.9 L431.6,1151.1 L433.1,1148.3 L434.6,1145.4 L436.1,1142.5 L437.6,1139.5 L439.1,1136.4 L440.6,1133.3 L442.1,1130.1 L443.6,1126.9 L445.1,1123.6 L446.6,1120.2 L448.1,1116.8 L449.6,1113.4 L451.1,1109.9 L452.6,1106.4 L454.1,1102.8 L455.6,1099.2 L457.1,1095.6 L458.6,1091.9 L460.1,1088.2 L461.6,1084.5 L463.1,1080.7 L464.6,1076.9 L466.1,1073.1 L467.6,1069.3 L469.1,1065.4 L470.6,1061.5 L472.1,1057.7 L473.6,1053.7 L475.1,1049.8 L476.6,1045.9 L478.1,1042.0 L479.6,1038.0 L481.1,1034.1 L482.6,1030.2 L484.1,1026.2 L485.6,1022.3 L487.1,1018.3 L488.6,1014.4 L490.1,1010.5 L491.6,1006.6 L493.1,1002.7 L494.6,998.8 L496.1,995.0 L497.6,991.1 L499.1,987.3 L500.6,983.5 L502.1,979.7 L503.6,975.9 L505.1,972.2 L506.6,968.5 L508.1,964.8 L509.6,961.1 L511.1,957.4 L512.6,953.8 L514.1,950.2 L515.6,946.7 L517.1,943.1 L518.6,939.6 L520.1,936.1 L521.6,932.7 L523.1,929.3 L524.6,925.9 L526.1,922.5 L527.6,919.2 L529.1,915.9 L530.6,912.7 L532.1,909.5 L533.6,906.3 L535.1,903.2 L536.6,900.1 L538.1,897.0 L539.6,894.0 L541.1,891.1 L542.6,888.2 L544.1,885.3 L545.6,882.5 L547.1,879.7 L548.6,877.0 L550.1,874.3 L551.6,871.6 L553.1,869.0 L554.6,866.5 L556.1,864.0 L557.6,861.6 L559.1,859.2 L560.6,856.8 L562.1,854.5 L563.6,852.2 L565.1,850.0 L566.6,847.8 L568.1,845.6 L569.6,843.5 L571.1,841.4 L572.6,839.4 L574.1,837.4 L575.6,835.4 L577.1,833.5 L578.6,831.6 L580.1,829.8 L581.6,827.9 L583.1,826.1 L584.6,824.4 L586.1,822.6 L587.6,820.9 L589.1,819.3 L590.6,817.6 L592.1,816.0 L593.6,814.4 L595.1,812.8 L596.6,811.3 L598.1,809.8 L599.6,808.3 L601.1,806.8 L602.6,805.3 L604.1,803.9 L605.6,802.5 L607.1,801.1 L608.6,799.7 L610.1,798.3 L611.6,797.0 L613.1,795.7 L614.6,794.4 L616.1,793.1 L617.6,791.8 L619.1,790.6 L620.6,789.3 L622.1,788.1 L623.6,786.9 L625.1,785.7 L626.6,784.5 L628.1,783.3 L629.6,782.1 L631.1,781.0 L632.6,779.8 L634.1,778.7 L635.6,777.5 L637.1,776.4 L638.6,775.3 L640.1,774.2 L641.6,773.1 L643.1,772.0 L644.6,771.0 L646.1,769.9 L647.6,768.8 L649.1,767.8 L650.6,766.7 L652.1,765.6 L653.6,764.6 L655.1,763.5 L656.6,762.5 L658.1,761.4 L659.6,760.4 L661.1,759.3 L662.6,758.2 L664.1,757.1 L665.6,756.0 L667.1,754.9 L668.6,753.7 L670.1,752.5 L671.6,751.3 L673.1,750.1 L674.6,748.8 L676.1,747.5 L677.6,746.1 L679.1,744.7 L680.6,743.3 L682.1,741.8 L683.6,740.3 L685.1,738.7 L686.6,737.1 L688.1,735.4 L689.6,733.6 L691.1,731.8 L692.6,729.9 L694.1,728.0 L695.6,725.9 L697.1,723.9 L698.6,721.7 L700.1,719.5 L701.6,717.1 L703.1,714.7 L704.6,712.2 L706.1,709.7 L707.6,707.0 L709.1,704.3 L710.6,701.5 L712.1,698.6 L713.6,695.7 L715.1,692.6 L716.6,689.5 L718.1,686.4 L719.6,683.1 L721.1,679.8 L722.6,676.4 L724.1,672.9 L725.6,669.4 L727.1,665.8 L728.6,662.1 L730.1,658.4 L731.6,654.6 L733.1,650.7 L734.6,646.8 L736.1,642.8 L737.6,638.7 L739.1,634.6 L740.6,630.4 L742.1,626.1 L743.6,621.8 L745.1,617.5 L746.6,613.1 L748.1,608.6 L749.6,604.1 L751.1,599.5 L752.6,594.8 L754.1,590.2 L755.6,585.5 L757.1,580.7 L758.6,575.9 L760.1,571.1 L761.6,566.2 L763.1,561.3 L764.6,556.4 L766.1,551.4 L767.6,546.4 L769.1,541.4 L770.6,536.4 L772.1,531.3 L773.6,526.3 L775.1,521.2 L776.6,516.1 L778.1,511.0 L779.6,505.9 L781.1,500.8 L782.6,495.7 L784.1,490.5 L785.6,485.4 L787.1,480.3 L788.6,475.2 L790.1,470.1 L791.6,465.0 L793.1,459.9 L794.6,454.8 L796.1,449.8 L797.6,444.7 L799.1,439.7 L800.6,434.7 L802.1,429.8 L803.6,424.8 L805.1,419.9 L806.6,415.0 L808.1,410.2 L809.6,405.4 L811.1,400.6 L812.6,395.8 L814.1,391.1 L815.6,386.5 L817.1,381.9 L818.6,377.3 L820.1,372.8 L821.6,368.3 L823.1,363.9 L824.6,359.5 L826.1,355.2 L827.6,350.9 L829.1,346.7 L830.6,342.5 L832.1,338.4 L833.6,334.4 L835.1,330.4 L836.6,326.5 L838.1,322.7 L839.6,318.9 L841.1,315.2 L842.6,311.5 L844.1,308.0 L845.6,304.5 L847.1,301.1 L848.6,297.7 L850.1,294.5 L851.6,291.3 L853.1,288.2 L854.6,285.2 L856.1,282.3 L857.6,279.4 L859.1,276.7 L860.6,274.0 L862.1,271.5 L863.6,269.0 L865.1,266.6 L866.6,264.2 L868.1,262.0 L869.6,259.8 L871.1,257.8 L872.6,255.7 L874.1,253.8 L875.6,251.9 L877.1,250.2 L878.6,248.4 L880.1,246.8 L881.6,245.2 L883.1,243.7 L884.6,242.2 L886.1,240.8 L887.6,239.4 L889.1,238.2 L890.6,236.9 L892.1,235.8 L893.6,234.6 L895.1,233.6 L896.6,232.5 L898.1,231.6 L899.6,230.6 L901.1,229.7 L902.6,228.9 L904.1,228.1 L905.6,227.3 L907.1,226.6 L908.6,225.9 L910.1,225.2 L911.6,224.6 L913.1,224.0 L914.6,223.5 L916.1,222.9 L917.6,222.4 L919.1,221.9 L920.6,221.4 L922.1,221.0 L923.6,220.6 L925.1,220.2 L926.6,219.8 L928.1,219.5 L929.6,219.2 L931.1,218.9 L932.6,218.6 L934.1,218.3 L935.6,218.1 L937.1,217.9 L938.6,217.7 L940.1,217.5 L941.6,217.3 L943.1,217.2 L944.6,217.1 L946.1,216.9 L947.6,216.8 L949.1,216.8 L950.6,216.7 L952.1,216.7 L953.6,216.6 L955.1,216.6 L956.6,216.6 L958.1,216.6 L959.6,216.7 L961.1,216.7 L962.6,216.7 L964.1,216.8 L965.6,216.9 L967.1,217.0 L968.6,217.0 L970.1,217.2 L971.6,217.3 L973.1,217.4 L974.6,217.5 L976.1,217.7 L977.6,217.8 L979.1,218.0 L980.6,218.1 L982.1,218.3 L983.6,218.5 L985.1,218.6 L986.6,218.8 L988.1,219.0 L989.6,219.2 L991.1,219.4 L992.6,219.6 L994.1,219.8 L995.6,220.0 L997.1,220.2 L998.6,220.4 L1000.1,220.6 L1001.6,220.9 L1003.1,221.1 L1004.6,221.3 L1006.1,221.5 L1007.6,221.8 L1009.1,222.0 L1010.6,222.2 L1012.1,222.5 L1013.6,222.7 L1015.1,222.9 L1016.6,223.2 L1018.1,223.4 L1019.6,223.7 L1021.1,223.9 L1022.6,224.1 L1024.1,224.4 L1025.6,224.6 L1027.1,224.9 L1028.6,225.1 L1030.1,225.4 L1031.6,225.6 L1033.1,225.9 L1034.6,226.1 L1036.1,226.3 L1037.6,226.6 L1039.1,226.8 L1040.6,227.1 L1042.1,227.3 L1043.6,227.5 L1045.1,227.8 L1046.6,228.0 L1048.1,228.3 L1049.6,228.5 L1051.1,228.7 L1052.6,228.9 L1054.1,229.2 L1055.6,229.4 L1057.1,229.6 L1058.6,229.8 L1060.1,230.0 L1061.6,230.2 L1063.1,230.5 L1064.6,230.7 L1066.1,230.9 L1067.6,231.1 L1069.1,231.3 L1070.6,231.4 L1072.1,231.6 L1073.6,231.8 L1075.1,232.0 L1076.6,232.2 L1078.1,232.4 L1079.6,232.6 L1081.1,232.7 L1082.6,232.9 L1084.1,233.1 L1085.6,233.3 L1087.1,233.4 L1088.6,233.6 L1090.1,233.8 L1091.6,233.9 L1093.1,234.1 L1094.6,234.2 L1096.1,234.4 L1097.6,234.6 L1099.1,234.7 L1100.6,234.9 L1102.1,235.0 L1103.6,235.2 L1105.1,235.3 L1106.6,235.5 L1108.1,235.6 L1109.6,235.8 L1111.1,236.0 L1112.6,236.1 L1114.1,236.3 L1115.6,236.4 L1117.1,236.6 L1118.6,236.7 L1120.1,236.9 L1121.6,237.0 L1123.1,237.2 L1124.6,237.3 L1126.1,237.5 L1127.6,237.6 L1129.1,237.8 L1130.6,237.9 L1132.1,238.1 L1133.6,238.3 L1135.1,238.4 L1136.6,238.6 L1138.1,238.7 L1139.6,238.9 L1141.1,239.1 L1142.6,239.2 L1144.1,239.4 L1145.6,239.6 L1147.1,239.7 L1148.6,239.9 L1150.1,240.1 L1151.6,240.2 L1153.1,240.4 L1154.6,240.6 L1156.1,240.8 L1157.6,241.0 L1159.1,241.2 L1160.6,241.3 L1162.1,241.5 L1163.6,241.7 L1165.1,241.9 L1166.6,242.1 L1168.1,242.4 L1169.6,242.6 L1171.1,242.8 L1172.6,243.0 L1174.1,243.3 L1175.6,243.5 L1177.1,243.7 L1178.6,244.0 L1180.1,244.2 L1181.6,244.5 L1183.1,244.8 L1184.6,245.1 L1186.1,245.3 L1187.6,245.6 L1189.1,245.9 L1190.6,246.3 L1192.1,246.6 L1193.6,246.9 L1195.1,247.3 L1196.6,247.6 L1198.1,248.0 L1199.6,248.3 L1201.1,248.7 L1202.6,249.1 L1204.1,249.5 L1205.6,249.9 L1207.1,250.4 L1208.6,250.8 L1210.1,251.2 L1211.6,251.7 L1213.1,252.2 L1214.6,252.7 L1216.1,253.2 L1217.6,253.7 L1219.1,254.2 L1220.6,254.8 L1222.1,255.3 L1223.6,255.9 L1225.1,256.5 L1226.6,257.1 L1228.1,257.7 L1229.6,258.3 L1231.1,259.0 L1232.6,259.6 L1234.1,260.3 L1235.6,261.0 L1237.1,261.7 L1238.6,262.5 L1240.1,263.2 L1241.6,264.0 L1243.1,264.8 L1244.6,265.6 L1246.1,266.4 L1247.6,267.3 L1249.1,268.1 L1250.6,269.0 L1252.1,269.9 L1253.6,270.8 L1255.1,271.7 L1256.6,272.7 L1258.1,273.6 L1259.6,274.6 L1261.1,275.6 L1262.6,276.6 L1264.1,277.6 L1265.6,278.7 L1267.1,279.7 L1268.6,280.8 L1270.1,281.9 L1271.6,283.0 L1273.1,284.1 L1274.6,285.3 L1276.1,286.4 L1277.6,287.6 L1279.1,288.8 L1280.6,290.0 L1282.1,291.2 L1283.6,292.4 L1285.1,293.6 L1286.6,294.9 L1288.1,296.1 L1289.6,297.4 L1291.1,298.7 L1292.6,300.0 L1294.1,301.3 L1295.6,302.6 L1297.1,303.9 L1298.6,305.3 L1300.1,306.7 L1301.6,308.0 L1303.1,309.4 L1304.6,310.8 L1306.1,312.2 L1307.6,313.6 L1309.1,315.1 L1310.6,316.5 L1312.1,317.9 L1313.6,319.4 L1315.1,320.9 L1316.6,322.4 L1318.1,323.8 L1319.6,325.3 L1321.1,326.9 L1322.6,328.4 L1324.1,329.9 L1325.6,331.4 L1327.1,333.0 L1328.6,334.5 L1330.1,336.1 L1331.6,337.7 L1333.1,339.2 L1334.6,340.8 L1336.1,342.4 L1337.6,344.0 L1339.1,345.6 L1340.6,347.3 L1342.1,348.9 L1343.6,350.5 L1345.1,352.2 L1346.6,353.8 L1348.1,355.5 L1349.6,357.1 L1351.1,358.8 L1352.6,360.5 L1354.1,362.2 L1355.6,363.9 L1357.1,365.6 L1358.6,367.3 L1360.1,369.0 L1361.6,370.7 L1363.1,372.5 L1364.6,374.2 L1366.1,376.0 L1367.6,377.7 L1369.1,379.5 L1370.6,381.2 L1372.1,383.0 L1373.6,384.8 L1375.1,386.6 L1376.6,388.4 L1378.1,390.2 L1379.6,392.0 L1381.1,393.8 L1382.6,395.6 L1384.1,397.4 L1385.6,399.2 L1387.1,401.1 L1388.6,402.9 L1390.1,404.8 L1391.6,406.6 L1393.1,408.5 L1394.6,410.3 L1396.1,412.2 L1397.6,414.1 L1399.1,416.0 L1400.6,417.9 L1402.1,419.7 L1403.6,421.6 L1405.1,423.5 L1406.6,425.5 L1408.1,427.4 L1409.6,429.3 L1411.1,431.2 L1412.6,433.1 L1414.1,435.1 L1415.6,437.0 L1417.1,438.9 L1418.6,440.9 L1420.1,442.8 L1421.6,444.8 L1423.1,446.7 L1424.6,448.7 L1426.1,450.7 L1427.6,452.6 L1429.1,454.6 L1430.6,456.6 L1432.1,458.6 L1433.6,460.6 L1435.1,462.6 L1436.6,464.6 L1438.1,466.6 L1439.6,468.6 L1441.1,470.6 L1442.6,472.6 L1444.1,474.6 L1445.6,476.6 L1447.1,478.6 L1448.6,480.7 L1450.1,482.7 L1451.6,484.7 L1453.1,486.7 L1454.6,488.8 L1456.1,490.8 L1457.6,492.9 L1459.1,494.9 L1460.6,496.9 L1462.1,499.0 L1463.6,501.1 L1465.1,503.1 L1466.6,505.2 L1468.1,507.2 L1469.6,509.3 L1471.1,511.3 L1472.6,513.4 L1474.1,515.5 L1475.6,517.6 L1477.1,519.6 L1478.6,521.7 L1480.1,523.8 L1481.6,525.9 L1483.1,527.9 L1484.6,530.0 L1486.1,532.1 L1487.6,534.2 L1489.1,536.3 L1490.6,538.4 L1492.1,540.4 L1493.6,542.5 L1495.1,544.6 L1496.6,546.7 L1498.1,548.8 L1499.6,550.9 L1501.1,553.0 L1502.6,555.1 L1504.1,557.2 L1505.6,559.3 L1507.1,561.4 L1508.6,563.5 L1510.1,565.6 L1511.6,567.7 L1513.1,569.8 L1514.6,571.9 L1516.1,574.0 L1517.6,576.1 L1519.1,578.2 L1520.6,580.3 L1522.1,582.4 L1523.6,584.5 L1525.1,586.6 L1526.6,588.7 L1528.1,590.8 L1529.6,592.9 L1531.1,595.0 L1532.6,597.1 L1534.1,599.2 L1535.6,601.3 L1537.1,603.4 L1538.6,605.5 L1540.1,607.6 L1541.6,609.7 L1543.1,611.8 L1544.6,613.9 L1546.1,616.0 L1547.6,618.2 L1549.1,620.3 L1550.6,622.4 L1552.1,624.5 L1553.6,626.6 L1555.1,628.7 L1556.6,630.8 L1558.1,632.9 L1559.6,635.0 L1561.1,637.1 L1562.6,639.2 L1564.1,641.3 L1565.6,643.4 L1567.1,645.5 L1568.6,647.6 L1570.1,649.7 L1571.6,651.8 L1573.1,653.9 L1574.6,656.0 L1576.1,658.1 L1577.6,660.2 L1579.1,662.3 L1580.6,664.4 L1582.1,666.5 L1583.6,668.6 L1585.1,670.8 L1586.6,672.9 L1588.1,675.0 L1589.6,677.1 L1591.1,679.2 L1592.6,681.3 L1594.1,683.4 L1595.6,685.5 L1597.1,687.6 L1598.6,689.7 L1600.1,691.8 L1601.6,693.9 L1603.1,696.0 L1604.6,698.1 L1606.1,700.2 L1607.6,702.3 L1609.1,704.4 L1610.6,706.6 L1612.1,708.7 L1613.6,710.8 L1615.1,712.9 L1616.6,715.0 L1618.1,717.1 L1619.6,719.2 L1621.1,721.3 L1622.6,723.4 L1624.1,725.5 L1625.6,727.6 L1627.1,729.7 L1628.6,731.8 L1630.1,733.9 L1631.6,736.1 L1633.1,738.2 L1634.6,740.3 L1636.1,742.4 L1637.6,744.5 L1639.1,746.6 L1640.6,748.7 L1642.1,750.8 L1643.6,752.9 L1645.1,755.0 L1646.6,757.1 L1648.1,759.3 L1649.6,761.4 L1651.1,763.5 L1652.6,765.6 L1654.1,767.7 L1655.6,769.8 L1657.1,771.9 L1658.6,774.0 L1660.1,776.1 L1661.6,778.2 L1663.1,780.4 L1664.6,782.5 L1666.1,784.6 L1667.6,786.7 L1669.1,788.8 L1670.6,790.9 L1672.1,793.0 L1673.6,795.1 L1675.1,797.3 L1676.6,799.4 L1678.1,801.5 L1679.6,803.6 L1681.1,805.7 L1682.6,807.8 L1684.1,809.9 L1685.6,812.0 L1687.1,814.2 L1688.6,816.3 L1690.1,818.4 L1691.6,820.5 L1693.1,822.6 L1694.6,824.7 L1696.1,826.8 L1697.6,829.0 L1699.1,831.1 L1700.6,833.2 L1702.1,835.3 L1703.6,837.4 L1705.1,839.5 L1706.6,841.6 L1708.1,843.8 L1709.6,845.9 L1711.1,848.0 L1712.6,850.1 L1714.1,852.2 L1715.6,854.3 L1717.1,856.5 L1718.6,858.6 L1720.1,860.7 L1721.6,862.8 L1723.1,864.9 L1724.6,867.0 L1726.1,869.2 L1727.6,871.3 L1729.1,873.4 L1730.6,875.5 L1732.1,877.6 L1733.6,879.8 L1735.1,881.9 L1736.6,884.0 L1738.1,886.1 L1739.6,888.2 L1741.1,890.4 L1742.6,892.5 L1744.1,894.6 L1745.6,896.7 L1747.1,898.8 L1748.6,901.0 L1750.1,903.1 L1751.6,905.2 L1753.1,907.3 L1754.6,909.4 L1756.1,911.6 L1757.6,913.7 L1759.1,915.8 L1760.6,917.9 L1762.1,920.1 L1763.6,922.2 L1765.1,924.3 L1766.6,926.4 L1768.1,928.5 L1769.6,930.7 L1771.1,932.8 L1772.6,934.9 L1774.1,937.0 L1775.6,939.2 L1777.1,941.3 L1778.6,943.4 L1780.1,945.5 L1781.6,947.7 L1783.1,949.8 L1784.6,951.9 L1786.1,954.0 L1787.6,956.2 L1789.1,958.3 L1790.6,960.4 L1792.1,962.5 L1793.6,964.7 L1795.1,966.8 L1796.6,968.9 L1798.1,971.1 L1799.6,973.2 L1801.1,975.3 L1802.6,977.4 L1804.1,979.6 L1805.6,981.7 L1807.1,983.8 L1808.6,986.0 L1810.1,988.1 L1811.6,990.2 L1813.1,992.4 L1814.6,994.5 L1816.1,996.6 L1817.6,998.7 L1819.1,1000.9 L1820.6,1003.0 L1822.1,1005.1 L1823.6,1007.3 L1825.1,1009.4 L1826.6,1011.5 L1828.1,1013.7 L1829.6,1015.8 L1831.1,1017.9 L1832.6,1020.1 L1834.1,1022.2 L1835.6,1024.3 L1837.1,1026.5 L1838.6,1028.6 L1840.1,1030.7 L1841.6,1032.9 L1843.1,1035.0 L1844.6,1037.1 L1846.1,1039.3 L1847.6,1041.4 L1849.1,1043.6 L1850.6,1045.7 L1852.1,1047.8 L1853.6,1050.0 L1855.1,1052.1 L1856.6,1054.2 L1858.1,1056.4 L1859.6,1058.5 L1861.1,1060.7 L1862.6,1062.8 L1864.1,1064.9 L1865.6,1067.1 L1867.1,1069.2 L1868.6,1071.4 L1870.1,1073.5 L1871.6,1075.6 L1873.1,1077.8 L1874.6,1079.9 L1876.1,1082.1 L1877.6,1084.2 L1879.1,1086.3 L1880.6,1088.5 L1882.1,1090.6 L1883.6,1092.8 L1885.1,1094.9 L1886.6,1097.1 L1888.1,1099.2 L1889.6,1101.3 L1891.1,1103.5 L1892.6,1105.6 L1894.1,1107.8 L1895.6,1109.9 L1897.1,1112.1 L1898.6,1114.2 L1900.1,1116.4 L1901.6,1118.5 L1903.1,1120.7 L1904.6,1122.8 L1906.1,1125.0 L1907.6,1127.1 L1909.1,1129.2 L1910.6,1131.4 L1912.1,1133.5 L1913.6,1135.7 L1915.1,1137.8 L1916.6,1140.0 L1918.1,1142.1 L1919.6,1144.3 L1921.1,1146.4 L1922.6,1148.6 L1924.1,1150.7 L1925.6,1152.9 L1927.1,1155.0 L1928.6,1157.2 L1930.1,1159.4 L1931.6,1161.5 L1933.1,1163.7 L1934.6,1165.8 L1936.1,1168.0 L1937.6,1170.1 L1939.1,1172.3 L1940.6,1174.4 L1942.1,1176.6 L1943.6,1178.7 L1945.1,1180.9 L1946.6,1183.1 L1948.1,1185.2 L1949.6,1187.4 L1951.1,1189.5 L1952.6,1191.7 L1954.1,1193.8 L1955.6,1196.0 L1957.1,1198.2 L1958.6,1200.3 L1960.1,1202.5 L1961.6,1204.6 L1963.1,1206.8 L1964.6,1208.9 L1966.1,1211.1 L1967.6,1213.3 L1969.1,1215.4 L1970.6,1217.6 L1972.1,1219.8 L1973.6,1221.9 L1975.1,1224.1 L1976.6,1226.2 L1978.1,1228.4 L1979.6,1230.6 L1981.1,1232.7 L1982.6,1234.9 L1984.1,1237.1 L1985.6,1239.2 L1987.1,1241.4 L1988.6,1243.6 L1990.1,1245.7 L1991.6,1247.9 L1993.1,1250.1 L1994.6,1252.2 L1996.1,1254.4 L1997.6,1256.6 L1999.1,1258.7 L2000.6,1260.9 L2002.1,1263.1 L2003.6,1265.2 L2005.1,1267.4 L2006.6,1269.6 L2008.1,1271.7 L2009.6,1273.9 L2011.1,1276.1 L2012.6,1278.3 L2014.1,1280.4 L2015.6,1282.6 L2017.1,1284.8 L2018.6,1287.0 L2020.1,1289.1 L2021.6,1291.3 L2023.1,1293.5 L2024.6,1295.6 L2026.1,1297.8 L2027.6,1300.0 L2050.4,1333.2" stroke="#ffc010"/>
<path d="M245.6,1333.2 L247.1,1334.2 L248.6,1335.0 L250.1,1335.8 L251.6,1336.4 L253.1,1336.9 L254.6,1337.2 L256.1,1337.5 L257.6,1337.6 L259.1,1337.6 L260.6,1337.6 L262.1,1337.4 L263.6,1337.1 L265.1,1336.7 L266.6,1336.2 L268.1,1335.6 L269.6,1335.0 L271.1,1334.2 L272.6,1333.4 L274.1,1332.5 L275.6,1331.5 L277.1,1330.4 L278.6,1329.3 L280.1,1328.0 L281.6,1326.8 L283.1,1325.4 L284.6,1324.0 L286.1,1322.5 L287.6,1321.0 L289.1,1319.4 L290.6,1317.8 L292.1,1316.1 L293.6,1314.3 L295.1,1312.6 L296.6,1310.8 L298.1,1308.9 L299.6,1307.0 L301.1,1305.1 L302.6,1303.2 L304.1,1301.2 L305.6,1299.2 L307.1,1297.2 L308.6,1295.1 L310.1,1293.1 L311.6,1291.0 L313.1,1288.9 L314.6,1286.9 L316.1,1284.8 L317.6,1282.7 L319.1,1280.6 L320.6,1278.5 L322.1,1276.5 L323.6,1274.4 L325.1,1272.3 L326.6,1270.3 L328.1,1268.3 L329.6,1266.3 L331.1,1264.3 L332.6,1262.4 L334.1,1260.5 L335.6,1258.6 L337.1,1256.7 L338.6,1254.9 L340.1,1253.1 L341.6,1251.4 L343.1,1249.7 L344.6,1248.0 L346.1,1246.4 L347.6,1244.8 L349.1,1243.2 L350.6,1241.6 L352.1,1240.1 L353.6,1238.6 L355.1,1237.1 L356.6,1235.6 L358.1,1234.2 L359.6,1232.8 L361.1,1231.4 L362.6,1230.0 L364.1,1228.7 L365.6,1227.3 L367.1,1226.0 L368.6,1224.7 L370.1,1223.4 L371.6,1222.1 L373.1,1220.9 L374.6,1219.6 L376.1,1218.4 L377.6,1217.1 L379.1,1215.9 L380.6,1214.7 L382.1,1213.5 L383.6,1212.3 L385.1,1211.1 L386.6,1209.8 L388.1,1208.6 L389.6,1207.4 L391.1,1206.2 L392.6,1205.0 L394.1,1203.8 L395.6,1202.6 L397.1,1201.4 L398.6,1200.2 L400.1,1198.9 L401.6,1197.7 L403.1,1196.4 L404.6,1195.1 L406.1,1193.8 L407.6,1192.5 L409.1,1191.1 L410.6,1189.7 L412.1,1188.3 L413.6,1186.8 L415.1,1185.3 L416.6,1183.8 L418.1,1182.1 L419.6,1180.5 L421.1,1178.8 L422.6,1177.0 L424.1,1175.1 L425.6,1173.2 L427.1,1171.2 L428.6,1169.2 L430.1,1167.1 L431.6,1164.9 L433.1,1162.6 L434.6,1160.2 L436.1,1157.7 L437.6,1155.2 L439.1,1152.6 L440.6,1149.9 L442.1,1147.2 L443.6,1144.3 L445.1,1141.4 L446.6,1138.5 L448.1,1135.4 L449.6,1132.3 L451.1,1129.2 L452.6,1126.0 L454.1,1122.7 L455.6,1119.4 L457.1,1116.0 L458.6,1112.6 L460.1,1109.2 L461.6,1105.7 L463.1,1102.1 L464.6,1098.5 L466.1,1094.9 L467.6,1091.3 L469.1,1087.6 L470.6,1083.8 L472.1,1080.1 L473.6,1076.3 L475.1,1072.5 L476.6,1068.7 L478.1,1064.9 L479.6,1061.0 L481.1,1057.1 L482.6,1053.3 L484.1,1049.4 L485.6,1045.5 L487.1,1041.6 L488.6,1037.7 L490.1,1033.7 L491.6,1029.8 L493.1,1025.9 L494.6,1022.0 L496.1,1018.1 L497.6,1014.2 L499.1,1010.4 L500.6,1006.5 L502.1,1002.7 L503.6,998.8 L505.1,995.0 L506.6,991.3 L508.1,987.5 L509.6,983.8 L511.1,980.1 L512.6,976.4 L514.1,972.8 L515.6,969.2 L517.1,965.6 L518.6,962.1 L520.1,958.5 L521.6,955.1 L523.1,951.6 L524.6,948.2 L526.1,944.8 L527.6,941.4 L529.1,938.1 L530.6,934.8 L532.1,931.6 L533.6,928.3 L535.1,925.1 L536.6,922.0 L538.1,918.8 L539.6,915.7 L541.1,912.7 L542.6,909.6 L544.1,906.7 L545.6,903.7 L547.1,900.8 L548.6,897.9 L550.1,895.0 L551.6,892.2 L553.1,889.4 L554.6,886.7 L556.1,884.0 L557.6,881.3 L559.1,878.6 L560.6,876.0 L562.1,873.5 L563.6,870.9 L565.1,868.4 L566.6,866.0 L568.1,863.6 L569.6,861.2 L571.1,858.8 L572.6,856.5 L574.1,854.2 L575.6,852.0 L577.1,849.8 L578.6,847.6 L580.1,845.4 L581.6,843.3 L583.1,841.3 L584.6,839.2 L586.1,837.2 L587.6,835.2 L589.1,833.2 L590.6,831.3 L592.1,829.4 L593.6,827.6 L595.1,825.7 L596.6,823.9 L598.1,822.1 L599.6,820.4 L601.1,818.6 L602.6,816.9 L604.1,815.3 L605.6,813.6 L607.1,812.0 L608.6,810.4 L610.1,808.8 L611.6,807.3 L613.1,805.7 L614.6,804.2 L616.1,802.7 L617.6,801.3 L619.1,799.8 L620.6,798.4 L622.1,797.0 L623.6,795.7 L625.1,794.3 L626.6,793.0 L628.1,791.7 L629.6,790.4 L631.1,789.1 L632.6,787.8 L634.1,786.6 L635.6,785.4 L637.1,784.2 L638.6,783.0 L640.1,781.8 L641.6,780.6 L643.1,779.5 L644.6,778.4 L646.1,777.3 L647.6,776.2 L649.1,775.1 L650.6,774.0 L652.1,772.9 L653.6,771.9 L655.1,770.9 L656.6,769.8 L658.1,768.8 L659.6,767.8 L661.1,766.8 L662.6,765.8 L664.1,764.8 L665.6,763.8 L667.1,762.8 L668.6,761.8 L670.1,760.7 L671.6,759.7 L673.1,758.6 L674.6,757.5 L676.1,756.4 L677.6,755.3 L679.1,754.1 L680.6,752.9 L682.1,751.7 L683.6,750.4 L685.1,749.1 L686.6,747.8 L688.1,746.4 L689.6,745.0 L691.1,743.5 L692.6,741.9 L694.1,740.3 L695.6,738.7 L697.1,737.0 L698.6,735.2 L700.1,733.4 L701.6,731.5 L703.1,729.5 L704.6,727.4 L706.1,725.3 L707.6,723.1 L709.1,720.8 L710.6,718.5 L712.1,716.0 L713.6,713.5 L715.1,710.9 L716.6,708.2 L718.1,705.5 L719.6,702.7 L721.1,699.8 L722.6,696.8 L724.1,693.8 L725.6,690.7 L727.1,687.5 L728.6,684.3 L730.1,680.9 L731.6,677.5 L733.1,674.1 L734.6,670.6 L736.1,667.0 L737.6,663.3 L739.1,659.6 L740.6,655.8 L742.1,651.9 L743.6,648.0 L745.1,644.0 L746.6,639.9 L748.1,635.8 L749.6,631.6 L751.1,627.4 L752.6,623.1 L754.1,618.7 L755.6,614.3 L757.1,609.8 L758.6,605.2 L760.1,600.6 L761.6,596.0 L763.1,591.3 L764.6,586.5 L766.1,581.7 L767.6,576.8 L769.1,571.9 L770.6,566.9 L772.1,561.8 L773.6,556.8 L775.1,551.6 L776.6,546.5 L778.1,541.3 L779.6,536.0 L781.1,530.7 L782.6,525.3 L784.1,520.0 L785.6,514.5 L787.1,509.1 L788.6,503.5 L790.1,498.0 L791.6,492.4 L793.1,486.8 L794.6,481.2 L796.1,475.5 L797.6,469.9 L799.1,464.2 L800.6,458.6 L802.1,452.9 L803.6,447.3 L805.1,441.7 L806.6,436.1 L808.1,430.5 L809.6,425.0 L811.1,419.5 L812.6,414.1 L814.1,408.7 L815.6,403.4 L817.1,398.1 L818.6,392.9 L820.1,387.8 L821.6,382.7 L823.1,377.6 L824.6,372.7 L826.1,367.8 L827.6,362.9 L829.1,358.2 L830.6,353.5 L832.1,348.8 L833.6,344.3 L835.1,339.8 L836.6,335.4 L838.1,331.1 L839.6,326.8 L841.1,322.6 L842.6,318.5 L844.1,314.5 L845.6,310.5 L847.1,306.7 L848.6,302.9 L850.1,299.2 L851.6,295.6 L853.1,292.1 L854.6,288.7 L856.1,285.4 L857.6,282.1 L859.1,279.0 L860.6,276.0 L862.1,273.0 L863.6,270.2 L865.1,267.4 L866.6,264.8 L868.1,262.2 L869.6,259.8 L871.1,257.4 L872.6,255.1 L874.1,252.9 L875.6,250.9 L877.1,248.9 L878.6,246.9 L880.1,245.1 L881.6,243.3 L883.1,241.7 L884.6,240.0 L886.1,238.5 L887.6,237.1 L889.1,235.7 L890.6,234.3 L892.1,233.1 L893.6,231.9 L895.1,230.8 L896.6,229.7 L898.1,228.7 L899.6,227.7 L901.1,226.8 L902.6,225.9 L904.1,225.1 L905.6,224.4 L907.1,223.6 L908.6,223.0 L910.1,222.3 L911.6,221.7 L913.1,221.2 L914.6,220.7 L916.1,220.2 L917.6,219.7 L919.1,219.3 L920.6,218.9 L922.1,218.5 L923.6,218.1 L925.1,217.8 L926.6,217.5 L928.1,217.2 L929.6,216.9 L931.1,216.6 L932.6,216.3 L934.1,216.1 L935.6,215.9 L937.1,215.7 L938.6,215.5 L940.1,215.3 L941.6,215.2 L943.1,215.0 L944.6,214.9 L946.1,214.8 L947.6,214.7 L949.1,214.6 L950.6,214.5 L952.1,214.5 L953.6,214.4 L955.1,214.4 L956.6,214.3 L958.1,214.3 L959.6,214.3 L961.1,214.3 L962.6,214.4 L964.1,214.4 L965.6,214.4 L967.1,214.5 L968.6,214.6 L970.1,214.6 L971.6,214.7 L973.1,214.8 L974.6,214.9 L976.1,215.0 L977.6,215.1 L979.1,215.3 L980.6,215.4 L982.1,215.5 L983.6,215.7 L985.1,215.8 L986.6,216.0 L988.1,216.1 L989.6,216.3 L991.1,216.5 L992.6,216.7 L994.1,216.9 L995.6,217.1 L997.1,217.2 L998.6,217.4 L1000.1,217.6 L1001.6,217.9 L1003.1,218.1 L1004.6,218.3 L1006.1,218.5 L1007.6,218.7 L1009.1,218.9 L1010.6,219.2 L1012.1,219.4 L1013.6,219.6 L1015.1,219.8 L1016.6,220.1 L1018.1,220.3 L1019.6,220.5 L1021.1,220.8 L1022.6,221.0 L1024.1,221.2 L1025.6,221.5 L1027.1,221.7 L1028.6,222.0 L1030.1,222.2 L1031.6,222.4 L1033.1,222.7 L1034.6,222.9 L1036.1,223.2 L1037.6,223.4 L1039.1,223.7 L1040.6,223.9 L1042.1,224.1 L1043.6,224.4 L1045.1,224.6 L1046.6,224.9 L1048.1,225.1 L1049.6,225.4 L1051.1,225.6 L1052.6,225.9 L1054.1,226.1 L1055.6,226.3 L1057.1,226.6 L1058.6,226.8 L1060.1,227.1 L1061.6,227.3 L1063.1,227.5 L1064.6,227.8 L1066.1,228.0 L1067.6,228.3 L1069.1,228.5 L1070.6,228.7 L1072.1,229.0 L1073.6,229.2 L1075.1,229.4 L1076.6,229.6 L1078.1,229.9 L1079.6,230.1 L1081.1,230.3 L1082.6,230.5 L1084.1,230.7 L1085.6,230.9 L1087.1,231.2 L1088.6,231.4 L1090.1,231.6 L1091.6,231.8 L1093.1,232.0 L1094.6,232.2 L1096.1,232.4 L1097.6,232.5 L1099.1,232.7 L1100.6,232.9 L1102.1,233.1 L1103.6,233.3 L1105.1,233.4 L1106.6,233.6 L1108.1,233.8 L1109.6,234.0 L1111.1,234.1 L1112.6,234.3 L1114.1,234.4 L1115.6,234.6 L1117.1,234.8 L1118.6,234.9 L1120.1,235.1 L1121.6,235.2 L1123.1,235.4 L1124.6,235.5 L1126.1,235.7 L1127.6,235.8 L1129.1,236.0 L1130.6,236.1 L1132.1,236.3 L1133.6,236.4 L1135.1,236.6 L1136.6,236.7 L1138.1,236.9 L1139.6,237.0 L1141.1,237.1 L1142.6,237.3 L1144.1,237.4 L1145.6,237.6 L1147.1,237.7 L1148.6,237.9 L1150.1,238.0 L1151.6,238.2 L1153.1,238.3 L1154.6,238.5 L1156.1,238.7 L1157.6,238.8 L1159.1,239.0 L1160.6,239.1 L1162.1,239.3 L1163.6,239.5 L1165.1,239.6 L1166.6,239.8 L1168.1,240.0 L1169.6,240.1 L1171.1,240.3 L1172.6,240.5 L1174.1,240.7 L1175.6,240.9 L1177.1,241.1 L1178.6,241.3 L1180.1,241.5 L1181.6,241.7 L1183.1,241.9 L1184.6,242.1 L1186.1,242.3 L1187.6,242.6 L1189.1,242.8 L1190.6,243.0 L1192.1,243.3 L1193.6,243.6 L1195.1,243.8 L1196.6,244.1 L1198.1,244.4 L1199.6,244.7 L1201.1,245.0 L1202.6,245.3 L1204.1,245.6 L1205.6,246.0 L1207.1,246.3 L1208.6,246.7 L1210.1,247.1 L1211.6,247.4 L1213.1,247.8 L1214.6,248.2 L1216.1,248.7 L1217.6,249.1 L1219.1,249.5 L1220.6,250.0 L1222.1,250.5 L1223.6,251.0 L1225.1,251.5 L1226.6,252.0 L1228.1,252.6 L1229.6,253.1 L1231.1,253.7 L1232.6,254.3 L1234.1,254.9 L1235.6,255.5 L1237.1,256.2 L1238.6,256.8 L1240.1,257.5 L1241.6,258.2 L1243.1,258.9 L1244.6,259.7 L1246.1,260.4 L1247.6,261.2 L1249.1,262.0 L1250.6,262.8 L1252.1,263.7 L1253.6,264.5 L1255.1,265.4 L1256.6,266.3 L1258.1,267.2 L1259.6,268.1 L1261.1,269.0 L1262.6,270.0 L1264.1,271.0 L1265.6,272.0 L1267.1,273.0 L1268.6,274.0 L1270.1,275.1 L1271.6,276.1 L1273.1,277.2 L1274.6,278.3 L1276.1,279.4 L1277.6,280.5 L1279.1,281.7 L1280.6,282.8 L1282.1,284.0 L1283.6,285.2 L1285.1,286.4 L1286.6,287.6 L1288.1,288.8 L1289.6,290.0 L1291.1,291.3 L1292.6,292.6 L1294.1,293.8 L1295.6,295.1 L1297.1,296.4 L1298.6,297.7 L1300.1,299.1 L1301.6,300.4 L1303.1,301.8 L1304.6,303.1 L1306.1,304.5 L1307.6,305.9 L1309.1,307.3 L1310.6,308.7 L1312.1,310.1 L1313.6,311.5 L1315.1,313.0 L1316.6,314.4 L1318.1,315.9 L1319.6,317.4 L1321.1,318.8 L1322.6,320.3 L1324.1,321.8 L1325.6,323.3 L1327.1,324.8 L1328.6,326.4 L1330.1,327.9 L1331.6,329.4 L1333.1,331.0 L1334.6,332.5 L1336.1,334.1 L1337.6,335.7 L1339.1,337.2 L1340.6,338.8 L1342.1,340.4 L1343.6,342.0 L1345.1,343.6 L1346.6,345.2 L1348.1,346.9 L1349.6,348.5 L1351.1,350.1 L1352.6,351.8 L1354.1,353.4 L1355.6,355.1 L1357.1,356.8 L1358.6,358.4 L1360.1,360.1 L1361.6,361.8 L1363.1,363.5 L1364.6,365.2 L1366.1,366.9 L1367.6,368.6 L1369.1,370.4 L1370.6,372.1 L1372.1,373.8 L1373.6,375.6 L1375.1,377.3 L1376.6,379.1 L1378.1,380.8 L1379.6,382.6 L1381.1,384.4 L1382.6,386.2 L1384.1,387.9 L1385.6,389.7 L1387.1,391.5 L1388.6,393.3 L1390.1,395.1 L1391.6,397.0 L1393.1,398.8 L1394.6,400.6 L1396.1,402.4 L1397.6,404.3 L1399.1,406.1 L1400.6,408.0 L1402.1,409.8 L1403.6,411.7 L1405.1,413.6 L1406.6,415.4 L1408.1,417.3 L1409.6,419.2 L1411.1,421.1 L1412.6,423.0 L1414.1,424.9 L1415.6,426.8 L1417.1,428.7 L1418.6,430.6 L1420.1,432.5 L1421.6,434.4 L1423.1,436.3 L1424.6,438.3 L1426.1,440.2 L1427.6,442.1 L1429.1,444.1 L1430.6,446.0 L1432.1,448.0 L1433.6,449.9 L1435.1,451.9 L1436.6,453.8 L1438.1,455.8 L1439.6,457.8 L1441.1,459.8 L1442.6,461.7 L1444.1,463.7 L1445.6,465.7 L1447.1,467.7 L1448.6,469.7 L1450.1,471.7 L1451.6,473.7 L1453.1,475.7 L1454.6,477.7 L1456.1,479.7 L1457.6,481.7 L1459.1,483.7 L1460.6,485.8 L1462.1,487.8 L1463.6,489.8 L1465.1,491.8 L1466.6,493.9 L1468.1,495.9 L1469.6,497.9 L1471.1,500.0 L1472.6,502.0 L1474.1,504.1 L1475.6,506.1 L1477.1,508.2 L1478.6,510.2 L1480.1,512.3 L1481.6,514.3 L1483.1,516.4 L1484.6,518.5 L1486.1,520.5 L1487.6,522.6 L1489.1,524.7 L1490.6,526.7 L1492.1,528.8 L1493.6,530.9 L1495.1,532.9 L1496.6,535.0 L1498.1,537.1 L1499.6,539.2 L1501.1,541.3 L1502.6,543.3 L1504.1,545.4 L1505.6,547.5 L1507.1,549.6 L1508.6,551.7 L1510.1,553.8 L1511.6,555.9 L1513.1,558.0 L1514.6,560.1 L1516.1,562.2 L1517.6,564.3 L1519.1,566.3 L1520.6,568.4 L1522.1,570.5 L1523.6,572.6 L1525.1,574.7 L1526.6,576.8 L1528.1,578.9 L1529.6,581.0 L1531.1,583.1 L1532.6,585.2 L1534.1,587.3 L1535.6,589.4 L1537.1,591.5 L1538.6,593.6 L1540.1,595.7 L1541.6,597.8 L1543.1,600.0 L1544.6,602.1 L1546.1,604.2 L1547.6,606.3 L1549.1,608.4 L1550.6,610.5 L1552.1,612.6 L1553.6,614.7 L1555.1,616.8 L1556.6,618.9 L1558.1,621.0 L1559.6,623.1 L1561.1,625.2 L1562.6,627.3 L1564.1,629.4 L1565.6,631.5 L1567.1,633.6 L1568.6,635.6 L1570.1,637.7 L1571.6,639.8 L1573.1,641.9 L1574.6,644.0 L1576.1,646.1 L1577.6,648.2 L1579.1,650.3 L1580.6,652.4 L1582.1,654.5 L1583.6,656.6 L1585.1,658.7 L1586.6,660.8 L1588.1,662.9 L1589.6,665.0 L1591.1,667.1 L1592.6,669.2 L1594.1,671.3 L1595.6,673.4 L1597.1,675.5 L1598.6,677.6 L1600.1,679.7 L1601.6,681.8 L1603.1,683.9 L1604.6,686.0 L1606.1,688.1 L1607.6,690.2 L1609.1,692.3 L1610.6,694.4 L1612.1,696.5 L1613.6,698.6 L1615.1,700.7 L1616.6,702.7 L1618.1,704.8 L1619.6,706.9 L1621.1,709.0 L1622.6,711.1 L1624.1,713.2 L1625.6,715.3 L1627.1,717.4 L1628.6,719.5 L1630.1,721.6 L1631.6,723.7 L1633.1,725.8 L1634.6,727.9 L1636.1,730.0 L1637.6,732.1 L1639.1,734.2 L1640.6,736.3 L1642.1,738.4 L1643.6,740.5 L1645.1,742.6 L1646.6,744.6 L1648.1,746.7 L1649.6,748.8 L1651.1,750.9 L1652.6,753.0 L1654.1,755.1 L1655.6,757.2 L1657.1,759.3 L1658.6,761.4 L1660.1,763.5 L1661.6,765.6 L1663.1,767.7 L1664.6,769.8 L1666.1,771.9 L1667.6,774.0 L1669.1,776.1 L1670.6,778.2 L1672.1,780.3 L1673.6,782.4 L1675.1,784.5 L1676.6,786.6 L1678.1,788.6 L1679.6,790.7 L1681.1,792.8 L1682.6,794.9 L1684.1,797.0 L1685.6,799.1 L1687.1,801.2 L1688.6,803.3 L1690.1,805.4 L1691.6,807.5 L1693.1,809.6 L1694.6,811.7 L1696.1,813.8 L1697.6,815.9 L1699.1,818.0 L1700.6,820.1 L1702.1,822.2 L1703.6,824.3 L1705.1,826.4 L1706.6,828.5 L1708.1,830.6 L1709.6,832.7 L1711.1,834.8 L1712.6,836.9 L1714.1,839.0 L1715.6,841.1 L1717.1,843.2 L1718.6,845.3 L1720.1,847.4 L1721.6,849.5 L1723.1,851.6 L1724.6,853.7 L1726.1,855.8 L1727.6,857.9 L1729.1,860.0 L1730.6,862.1 L1732.1,864.2 L1733.6,866.3 L1735.1,868.4 L1736.6,870.5 L1738.1,872.6 L1739.6,874.7 L1741.1,876.8 L1742.6,878.9 L1744.1,881.0 L1745.6,883.1 L1747.1,885.2 L1748.6,887.3 L1750.1,889.4 L1751.6,891.5 L1753.1,893.6 L1754.6,895.7 L1756.1,897.8 L1757.6,899.9 L1759.1,902.0 L1760.6,904.1 L1762.1,906.2 L1763.6,908.3 L1765.1,910.4 L1766.6,912.5 L1768.1,914.6 L1769.6,916.7 L1771.1,918.8 L1772.6,920.9 L1774.1,923.0 L1775.6,925.1 L1777.1,927.2 L1778.6,929.3 L1780.1,931.5 L1781.6,933.6 L1783.1,935.7 L1784.6,937.8 L1786.1,939.9 L1787.6,942.0 L1789.1,944.1 L1790.6,946.2 L1792.1,948.3 L1793.6,950.4 L1795.1,952.5 L1796.6,954.6 L1798.1,956.8 L1799.6,958.9 L1801.1,961.0 L1802.6,963.1 L1804.1,965.2 L1805.6,967.3 L1807.1,969.4 L1808.6,971.5 L1810.1,973.6 L1811.6,975.8 L1813.1,977.9 L1814.6,980.0 L1816.1,982.1 L1817.6,984.2 L1819.1,986.3 L1820.6,988.4 L1822.1,990.6 L1823.6,992.7 L1825.1,994.8 L1826.6,996.9 L1828.1,999.0 L1829.6,1001.1 L1831.1,1003.2 L1832.6,1005.4 L1834.1,1007.5 L1835.6,1009.6 L1837.1,1011.7 L1838.6,1013.8 L1840.1,1016.0 L1841.6,1018.1 L1843.1,1020.2 L1844.6,1022.3 L1846.1,1024.4 L1847.6,1026.6 L1849.1,1028.7 L1850.6,1030.8 L1852.1,1032.9 L1853.6,1035.0 L1855.1,1037.2 L1856.6,1039.3 L1858.1,1041.4 L1859.6,1043.5 L1861.1,1045.7 L1862.6,1047.8 L1864.1,1049.9 L1865.6,1052.0 L1867.1,1054.2 L1868.6,1056.3 L1870.1,1058.4 L1871.6,1060.5 L1873.1,1062.7 L1874.6,1064.8 L1876.1,1066.9 L1877.6,1069.1 L1879.1,1071.2 L1880.6,1073.3 L1882.1,1075.4 L1883.6,1077.6 L1885.1,1079.7 L1886.6,1081.8 L1888.1,1084.0 L1889.6,1086.1 L1891.1,1088.2 L1892.6,1090.4 L1894.1,1092.5 L1895.6,1094.6 L1897.1,1096.8 L1898.6,1098.9 L1900.1,1101.0 L1901.6,1103.2 L1903.1,1105.3 L1904.6,1107.5 L1906.1,1109.6 L1907.6,1111.7 L1909.1,1113.9 L1910.6,1116.0 L1912.1,1118.2 L1913.6,1120.3 L1915.1,1122.4 L1916.6,1124.6 L1918.1,1126.7 L1919.6,1128.9 L1921.1,1131.0 L1922.6,1133.1 L1924.1,1135.3 L1925.6,1137.4 L1927.1,1139.6 L1928.6,1141.7 L1930.1,1143.9 L1931.6,1146.0 L1933.1,1148.2 L1934.6,1150.3 L1936.1,1152.5 L1937.6,1154.6 L1939.1,1156.8 L1940.6,1158.9 L1942.1,1161.1 L1943.6,1163.2 L1945.1,1165.4 L1946.6,1167.5 L1948.1,1169.7 L1949.6,1171.8 L1951.1,1174.0 L1952.6,1176.1 L1954.1,1178.3 L1955.6,1180.4 L1957.1,1182.6 L1958.6,1184.8 L1960.1,1186.9 L1961.6,1189.1 L1963.1,1191.2 L1964.6,1193.4 L1966.1,1195.6 L1967.6,1197.7 L1969.1,1199.9 L1970.6,1202.0 L1972.1,1204.2 L1973.6,1206.4 L1975.1,1208.5 L1976.6,1210.7 L1978.1,1212.9 L1979.6,1215.0 L1981.1,1217.2 L1982.6,1219.4 L1984.1,1221.5 L1985.6,1223.7 L1987.1,1225.9 L1988.6,1228.0 L1990.1,1230.2 L1991.6,1232.4 L1993.1,1234.5 L1994.6,1236.7 L1996.1,1238.9 L1997.6,1241.1 L1999.1,1243.2 L2000.6,1245.4 L2002.1,1247.6 L2003.6,1249.8 L2005.1,1251.9 L2006.6,1254.1 L2008.1,1256.3 L2009.6,1258.5 L2011.1,1260.6 L2012.6,1262.8 L2014.1,1265.0 L2015.6,1267.2 L2017.1,1269.4 L2018.6,1271.6 L2020.1,1273.7 L2021.6,1275.9 L2023.1,1278.1 L2024.6,1280.3 L2026.1,1282.5 L2027.6,1284.7 L2029.1,1286.9 L2030.6,1289.0 L2032.1,1291.2 L2033.6,1293.4 L2035.1,1295.6 L2036.6,1297.8 L2038.1,1300.0 L2060.9,1333.2" stroke="#3cbf6e"/>
</g>
<g font-family="'Liberation Serif','Times New Roman',serif" font-weight="bold" fill="#000">
<text transform="translate(196.0,1566.7)" font-size="64" text-anchor="end">0</text>
<text transform="translate(196.0,1352.1)" font-size="64" text-anchor="end">20</text>
<text transform="translate(196.0,1137.6)" font-size="64" text-anchor="end">40</text>
<text transform="translate(196.0,923.0)" font-size="64" text-anchor="end">60</text>
<text transform="translate(196.0,708.4)" font-size="64" text-anchor="end">80</text>
<text transform="translate(196.0,493.8)" font-size="64" text-anchor="end">100</text>
<text transform="translate(196.0,279.3)" font-size="64" text-anchor="end">120</text>
<text transform="translate(196.0,64.7)" font-size="64" text-anchor="end">140</text>
<text transform="translate(2143.6,1472.3)" font-size="64" text-anchor="start">0.0</text>
<text transform="translate(2143.6,1272.2)" font-size="64" text-anchor="start">0.2</text>
<text transform="translate(2143.6,1072.0)" font-size="64" text-anchor="start">0.4</text>
<text transform="translate(2143.6,871.9)" font-size="64" text-anchor="start">0.6</text>
<text transform="translate(2143.6,671.8)" font-size="64" text-anchor="start">0.8</text>
<text transform="translate(2143.6,471.6)" font-size="64" text-anchor="start">1.0</text>
<text transform="translate(2143.6,271.5)" font-size="64" text-anchor="start">1.2</text>
<text transform="translate(2143.6,71.4)" font-size="64" text-anchor="start">1.4</text>
<text transform="translate(246.3,1648.0) scale(0.96,1)" font-size="62.5" text-anchor="middle">0</text>
<text transform="translate(459.3,1648.0) scale(0.96,1)" font-size="62.5" text-anchor="middle">3000</text>
<text transform="translate(695.8,1648.0) scale(0.96,1)" font-size="62.5" text-anchor="middle">6000</text>
<text transform="translate(932.0,1648.0) scale(0.96,1)" font-size="62.5" text-anchor="middle">9000</text>
<text transform="translate(1179.0,1648.0) scale(0.96,1)" font-size="62.5" text-anchor="middle">12,000</text>
<text transform="translate(1416.7,1648.0) scale(0.96,1)" font-size="62.5" text-anchor="middle">15,000</text>
<text transform="translate(1653.3,1648.0) scale(0.96,1)" font-size="62.5" text-anchor="middle">18,000</text>
<text transform="translate(1889.8,1648.0) scale(0.96,1)" font-size="62.5" text-anchor="middle">21,000</text>
<text transform="translate(2127.0,1648.0) scale(0.96,1)" font-size="62.5" text-anchor="middle">24,000</text>
<text transform="translate(1179.0,1753.5) scale(0.98,1)" font-size="80" text-anchor="middle">Time/s</text>
<text transform="translate(68.3,797.5) rotate(-90) scale(0.986,1)" font-size="80" text-anchor="middle">Temperature/°C</text>
<text transform="translate(2305.6,771.5) rotate(-90) scale(0.982,1)" font-size="80" text-anchor="middle">Degree of cure</text>
<text transform="translate(1749.5,195.5) scale(1.03,1)" font-size="62" text-anchor="start">Al-surf</text>
<text transform="translate(1747.5,276.7) scale(1.03,1)" font-size="62" text-anchor="start">0° GFRP-1</text>
<text transform="translate(1747.5,357.3) scale(1.03,1)" font-size="62" text-anchor="start">0° GFRP-2</text>
<text transform="translate(1749.5,437.8) scale(1.03,1)" font-size="62" text-anchor="start">Al-mid</text>
<text transform="translate(757.5,159.8) scale(0.955,1)" font-size="67" text-anchor="start">124.2°C</text>
<text transform="translate(892.5,1140.8) scale(1.014,1)" font-size="63" text-anchor="start">Degree of cure</text>
</g>
<path d="M1586,174.5 H1736" stroke="#ee1111" stroke-width="5.0" fill="none"/>
<path d="M1586,255.3 H1736" stroke="#3e6aa0" stroke-width="5.0" fill="none"/>
<path d="M1586,336 H1736" stroke="#ffc010" stroke-width="5.0" fill="none"/>
<path d="M1586,416.8 H1736" stroke="#3cbf6e" stroke-width="5.0" fill="none"/>
<path d="M903.5,164.9 L929.3,200.2" stroke="#1a1a1a" stroke-width="1.8" fill="none"/><path d="M941.4,216.7 L921.2,206.1 L937.4,194.3 Z" fill="#000"/>
<path d="M881.0,1141.8 L808.6,1158.5" stroke="#1a1a1a" stroke-width="1.8" fill="none"/><path d="M772.5,1166.8 L806.6,1150.2 L810.5,1166.8 Z" fill="#000"/>
<path d="M903.5,1150.5 L834.9,1203.2" stroke="#1a1a1a" stroke-width="1.8" fill="none"/><path d="M806.4,1225.1 L829.8,1196.4 L840.1,1209.9 Z" fill="#000"/>
</svg>
</body></html>
